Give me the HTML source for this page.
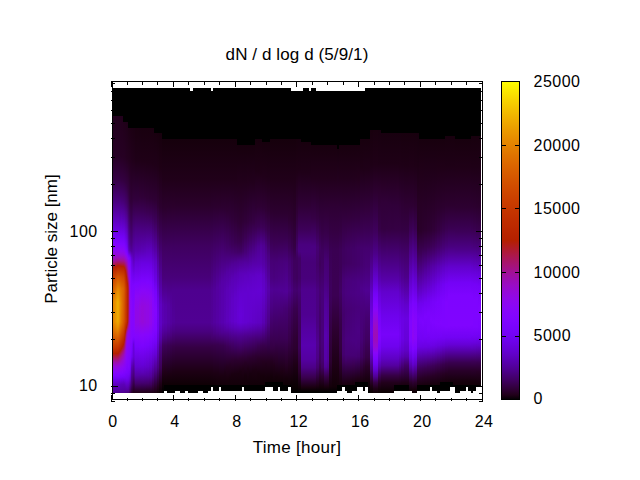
<!DOCTYPE html><html><head><meta charset="utf-8"><title>dN / d log d</title><style>
html,body{margin:0;padding:0;background:#fff}
body{width:640px;height:480px;position:relative;overflow:hidden;font-family:"Liberation Sans",sans-serif;font-size:16px;color:#000}
.a{position:absolute}
.k{position:absolute;background:#000}
.t{position:absolute;white-space:nowrap;line-height:16px;height:16px}
.c{position:absolute;top:0;height:100%}

</style></head><body>
<div class="a" style="left:0;top:88px;width:640px;height:305px">
<div class="c" style="left:113px;width:1px;background:linear-gradient(#000000 0.5px,#000000 27.5px,#22001d 28.5px,#270025 68.5px,#360046 92.5px,#4b0082 114.5px,#7102f1 146.5px,#7e04ff 154.5px,#8806f9 160.5px,#9309df 166.5px,#9a0dbe 170.5px,#a11096 173.5px,#aa1657 176.5px,#b31f08 179.5px,#b62200 180.5px,#cb4100 189.5px,#e58500 214.5px,#e58400 234.5px,#c93d00 258.5px,#b52000 265.5px,#a8156a 270.5px,#9d0ead 274.5px,#940adb 278.5px,#8806f9 283.5px,#7d04ff 287.5px,#7202f3 290.5px,#5e01bf 296.5px,#53009f 303.5px,#510096 304.5px)"></div>
<div class="c" style="left:114px;width:1px;background:linear-gradient(#000000 0.5px,#000000 27.5px,#22001d 28.5px,#270025 68.5px,#360046 92.5px,#4b0082 114.5px,#7102f1 146.5px,#7e04ff 154.5px,#8806f9 160.5px,#9109e5 165.5px,#990cc5 169.5px,#a00fa0 172.5px,#a5137c 174.5px,#af1a32 177.5px,#b52100 179.5px,#cd4500 189.5px,#e78d00 213.5px,#e78e00 233.5px,#de6f00 243.5px,#c63900 259.5px,#b52000 265.5px,#a8156a 270.5px,#9d0ead 274.5px,#940adb 278.5px,#8806f9 283.5px,#7d04ff 287.5px,#7202f3 290.5px,#5e01bf 296.5px,#53009f 303.5px,#510096 304.5px)"></div>
<div class="c" style="left:115px;width:1px;background:linear-gradient(#000000 0.5px,#000000 27.5px,#22001d 28.5px,#270025 68.5px,#360046 92.5px,#4b0082 114.5px,#7202f3 147.5px,#8004ff 155.5px,#8a06f6 161.5px,#9309dd 166.5px,#9c0db7 170.5px,#a31289 173.5px,#a9165d 175.5px,#b31f09 178.5px,#b72200 179.5px,#d04b00 189.5px,#e99600 213.5px,#e99600 233.5px,#e27b00 241.5px,#c63800 259.5px,#b52000 265.5px,#a8156a 270.5px,#9d0ead 274.5px,#940adb 278.5px,#8806f9 283.5px,#7d04ff 287.5px,#7202f3 290.5px,#5e01bf 296.5px,#53009f 303.5px,#510096 304.5px)"></div>
<div class="c" style="left:116px;width:1px;background:linear-gradient(#000000 0.5px,#000000 27.5px,#22001d 28.5px,#270025 68.5px,#360046 92.5px,#4b0082 114.5px,#7202f3 147.5px,#7f04ff 155.5px,#8a06f6 161.5px,#930adc 166.5px,#9c0eb3 170.5px,#a41283 173.5px,#ae1a38 176.5px,#b52000 178.5px,#d04c00 188.5px,#e89000 207.5px,#eda200 215.5px,#ec9e00 233.5px,#e68900 239.5px,#d85e00 249.5px,#be2b00 262.5px,#b52000 265.5px,#a8156a 270.5px,#9d0ead 274.5px,#940adb 278.5px,#8806f9 283.5px,#7d04ff 287.5px,#7202f3 290.5px,#5e01bf 296.5px,#53009f 303.5px,#510096 304.5px)"></div>
<div class="c" style="left:117px;width:1px;background:linear-gradient(#000000 0.5px,#000000 27.5px,#22001d 28.5px,#270025 68.5px,#360046 92.5px,#4b0082 114.5px,#7202f3 147.5px,#7f04ff 155.5px,#8a06f6 161.5px,#9209e3 165.5px,#9b0dbc 169.5px,#a21190 172.5px,#a81565 174.5px,#b31e0e 177.5px,#b62200 178.5px,#d35100 188.5px,#e68900 202.5px,#efac00 214.5px,#eea900 232.5px,#e99400 238.5px,#d96000 249.5px,#be2b00 262.5px,#b52000 265.5px,#a8156a 270.5px,#9d0ead 274.5px,#940adb 278.5px,#8806f9 283.5px,#7d04ff 287.5px,#7202f3 290.5px,#5e01bf 296.5px,#53009f 303.5px,#510096 304.5px)"></div>
<div class="c" style="left:118px;width:1px;background:linear-gradient(#000000 0.5px,#000000 27.5px,#22001d 28.5px,#270024 67.5px,#350044 91.5px,#48007b 112.5px,#7202f3 147.5px,#7f04ff 155.5px,#8a06f6 161.5px,#9209e3 165.5px,#9b0dbb 169.5px,#a2118e 172.5px,#a91562 174.5px,#b31f0a 177.5px,#b72300 178.5px,#d35200 188.5px,#e68a00 202.5px,#eea800 214.5px,#eda600 230.5px,#eb9d00 235.5px,#d75b00 249.5px,#bc2800 262.5px,#b62200 264.5px,#b31e0c 265.5px,#a91562 269.5px,#9f0fa5 273.5px,#950ad5 277.5px,#8c07f1 281.5px,#8305fe 285.5px,#7a03fd 288.5px,#6e02eb 291.5px,#5d01be 296.5px,#53009f 303.5px,#510096 304.5px)"></div>
<div class="c" style="left:119px;width:1px;background:linear-gradient(#000000 0.5px,#000000 27.5px,#22001c 28.5px,#260024 67.5px,#33003f 89.5px,#420068 106.5px,#5900af 128.5px,#7302f5 148.5px,#8104ff 156.5px,#8b07f4 162.5px,#930adc 166.5px,#9b0dbd 169.5px,#a21190 172.5px,#a81565 174.5px,#b31e0f 177.5px,#b62200 178.5px,#d24f00 188.5px,#e37f00 201.5px,#ea9800 214.5px,#e99300 233.5px,#df7200 241.5px,#cc4300 253.5px,#b52000 263.5px,#aa1755 267.5px,#a11098 271.5px,#960ad3 276.5px,#8d07ef 280.5px,#8204ff 285.5px,#7602f8 289.5px,#6501d6 293.5px,#5d01bd 296.5px,#53009e 303.5px,#500095 304.5px)"></div>
<div class="c" style="left:120px;width:1px;background:linear-gradient(#000000 0.5px,#000000 27.5px,#22001c 28.5px,#260023 67.5px,#330040 90.5px,#420069 107.5px,#5800ae 128.5px,#7302f4 148.5px,#7e04ff 155.5px,#8906f7 161.5px,#9109e4 165.5px,#9a0dbe 169.5px,#a21192 172.5px,#ab174e 175.5px,#b21e14 177.5px,#b62100 178.5px,#d04c00 188.5px,#e07500 200.5px,#e68a00 215.5px,#e48300 233.5px,#db6600 241.5px,#c93e00 252.5px,#b62200 261.5px,#b31f07 262.5px,#a9165f 266.5px,#a0109c 270.5px,#960bd2 275.5px,#8e08ee 279.5px,#8104ff 285.5px,#7502f7 289.5px,#5c01bb 296.5px,#53009d 303.5px,#500094 304.5px)"></div>
<div class="c" style="left:121px;width:1px;background:linear-gradient(#000000 0.5px,#000000 27.5px,#21001b 28.5px,#260023 68.5px,#340042 92.5px,#470079 113.5px,#7302f4 148.5px,#8004ff 156.5px,#8d07f1 163.5px,#950ad5 167.5px,#9f0fa4 171.5px,#a41280 173.5px,#ae1a36 176.5px,#b52000 178.5px,#cf4900 188.5px,#de7000 201.5px,#e27c00 216.5px,#df7300 234.5px,#c73900 251.5px,#b42000 260.5px,#a8156a 265.5px,#9f0fa3 269.5px,#960bd3 274.5px,#8a07f5 280.5px,#7e04ff 286.5px,#7402f6 289.5px,#6401d3 293.5px,#5c01b9 296.5px,#52009c 303.5px,#500093 304.5px)"></div>
<div class="c" style="left:122px;width:1px;background:linear-gradient(#000000 0.5px,#000000 27.5px,#21001b 28.5px,#260023 68.5px,#340041 92.5px,#460074 112.5px,#5c01bb 132.5px,#7402f6 149.5px,#8104ff 157.5px,#8c07f1 163.5px,#950ad6 167.5px,#9f0fa5 171.5px,#a41283 173.5px,#ae193a 176.5px,#b42001 178.5px,#cd4500 188.5px,#dc6800 200.5px,#de6e00 219.5px,#db6600 234.5px,#bb2700 255.5px,#b52000 258.5px,#a61376 264.5px,#a00fa1 267.5px,#970bce 272.5px,#8d07f0 278.5px,#8204ff 284.5px,#7703fa 288.5px,#6c01e6 291.5px,#5b01b7 296.5px,#52009b 303.5px,#500092 304.5px)"></div>
<div class="c" style="left:123px;width:1px;background:linear-gradient(#000000 0.5px,#000000 33.5px,#21001a 34.5px,#260023 69.5px,#330040 92.5px,#450072 112.5px,#5900b2 130.5px,#7202f3 148.5px,#7f04ff 156.5px,#8a06f6 162.5px,#9209e0 166.5px,#9c0db5 170.5px,#a41285 173.5px,#ad193e 176.5px,#b41f07 178.5px,#b72300 179.5px,#cd4600 189.5px,#d96200 200.5px,#d85e00 230.5px,#d35300 237.5px,#bf2d00 250.5px,#b42002 256.5px,#a41283 263.5px,#9e0eac 266.5px,#960ad4 271.5px,#8906f7 279.5px,#7c03fe 286.5px,#7302f5 289.5px,#6301cf 293.5px,#5b01b6 296.5px,#52009a 303.5px,#4f0092 304.5px)"></div>
<div class="c" style="left:124px;width:1px;background:linear-gradient(#000000 0.5px,#000000 33.5px,#20001a 34.5px,#260023 70.5px,#330040 93.5px,#470077 115.5px,#7002ee 148.5px,#7d03fe 156.5px,#8706fa 162.5px,#9008e7 166.5px,#9a0cbf 170.5px,#a21193 173.5px,#aa1755 176.5px,#b31f0a 179.5px,#b62200 180.5px,#ce4700 193.5px,#d45500 201.5px,#d14d00 233.5px,#b82400 249.5px,#b42000 251.5px,#a00f9f 262.5px,#980cc8 266.5px,#9008e6 272.5px,#8405fd 281.5px,#7903fc 287.5px,#6f02ed 290.5px,#5b01b8 296.5px,#510098 303.5px,#4f008f 304.5px)"></div>
<div class="c" style="left:125px;width:1px;background:linear-gradient(#000000 0.5px,#000000 33.5px,#200019 34.5px,#250021 69.5px,#33003f 94.5px,#44006e 114.5px,#5a00b4 134.5px,#7102f1 152.5px,#7e04ff 160.5px,#8605fc 164.5px,#9109e4 168.5px,#9e0eab 173.5px,#aa1756 178.5px,#b31f09 182.5px,#b52100 183.5px,#cc4200 200.5px,#c93d00 233.5px,#b52100 243.5px,#b31e0c 244.5px,#ad193d 247.5px,#a21191 254.5px,#970bd0 262.5px,#8f08ea 268.5px,#8204ff 281.5px,#7502f8 288.5px,#6901df 292.5px,#5c01b9 297.5px,#500095 303.5px,#4d008b 304.5px)"></div>
<div class="c" style="left:126px;width:1px;background:linear-gradient(#000000 0.5px,#000000 33.5px,#1f0018 34.5px,#240020 70.5px,#32003e 95.5px,#43006a 115.5px,#7002ef 155.5px,#7e04ff 163.5px,#8706fb 166.5px,#9309de 170.5px,#a0109e 176.5px,#b42002 188.5px,#c33300 201.5px,#c13000 233.5px,#b72200 238.5px,#b41f05 239.5px,#a8156a 243.5px,#a0109d 246.5px,#980bca 251.5px,#9108e6 257.5px,#8806fa 270.5px,#7b03fe 284.5px,#7002ee 290.5px,#53009c 302.5px,#4c0087 304.5px)"></div>
<div class="c" style="left:127px;width:1px;background:linear-gradient(#000000 0.5px,#000000 33.5px,#1e0017 34.5px,#24001f 70.5px,#330040 99.5px,#420068 118.5px,#6b01e3 158.5px,#7a03fd 165.5px,#8605fc 168.5px,#9b0db9 178.5px,#a61376 186.5px,#ae193a 191.5px,#b41f04 195.5px,#b82400 199.5px,#b62200 233.5px,#b42000 234.5px,#b01c22 236.5px,#a21193 241.5px,#990cc6 244.5px,#9309de 247.5px,#8b07f3 253.5px,#8505fd 269.5px,#7a03fc 284.5px,#6f02ed 290.5px,#5500a2 301.5px,#4b0083 304.5px)"></div>
<div class="c" style="left:128px;width:1px;background:linear-gradient(#000000 0.5px,#000000 39.5px,#1e0016 40.5px,#24001f 72.5px,#350043 106.5px,#43006b 126.5px,#510097 145.5px,#5b01b7 158.5px,#6001c7 162.5px,#7603f9 167.5px,#8305fe 170.5px,#940ada 182.5px,#9b0dba 188.5px,#a41285 193.5px,#ab174f 198.5px,#ad1940 201.5px,#ad1941 220.5px,#aa1659 230.5px,#a81567 233.5px,#a1109b 237.5px,#960bd1 241.5px,#8f08ea 244.5px,#8b07f5 248.5px,#8004ff 278.5px,#7502f7 286.5px,#6b01e3 291.5px,#500095 302.5px,#4a0080 304.5px)"></div>
<div class="c" style="left:129px;width:1px;background:linear-gradient(#000000 0.5px,#000000 39.5px,#1d0015 40.5px,#23001e 72.5px,#330040 112.5px,#410066 132.5px,#510098 156.5px,#5900b0 162.5px,#6001c6 164.5px,#7002ee 167.5px,#7903fc 169.5px,#8505fc 175.5px,#9309de 192.5px,#980bcb 201.5px,#990cc4 220.5px,#970bcc 233.5px,#8c07f2 244.5px,#8405fd 260.5px,#7b03fd 280.5px,#7102f0 286.5px,#6501d5 291.5px,#450071 303.5px,#410066 304.5px)"></div>
<div class="c" style="left:130px;width:1px;background:linear-gradient(#000000 0.5px,#000000 39.5px,#1d0014 40.5px,#23001d 73.5px,#31003a 113.5px,#3e005d 134.5px,#4d0089 156.5px,#54009f 162.5px,#6301cf 166.5px,#7002ef 169.5px,#7903fb 173.5px,#8405fe 188.5px,#8c07f2 222.5px,#8906f7 243.5px,#7e04ff 266.5px,#7202f2 278.5px,#6701db 285.5px,#5b01b8 291.5px,#3b0054 303.5px,#38004b 304.5px)"></div>
<div class="c" style="left:131px;width:1px;background:linear-gradient(#000000 0.5px,#000000 39.5px,#1c0013 40.5px,#21001b 71.5px,#2f0036 111.5px,#3c0057 133.5px,#4c0087 157.5px,#53009e 163.5px,#6401d1 169.5px,#6a01e2 173.5px,#7a03fd 192.5px,#8706fb 215.5px,#8305fe 252.5px,#7803fb 264.5px,#7102f0 269.5px,#5a00b4 279.5px,#43006d 296.5px,#2c0030 304.5px)"></div>
<div class="c" style="left:132px;width:1px;background:linear-gradient(#000000 0.5px,#000000 39.5px,#1c0013 40.5px,#21001b 73.5px,#31003b 113.5px,#4c0087 153.5px,#5400a2 163.5px,#6201cd 171.5px,#7002f0 185.5px,#7e04ff 197.5px,#8605fc 231.5px,#8205fe 249.5px,#7502f8 255.5px,#6c01e7 268.5px,#6101ca 273.5px,#5700ab 278.5px,#44006e 292.5px,#270025 304.5px)"></div>
<div class="c" style="left:133px;width:1px;background:linear-gradient(#000000 0.5px,#000000 39.5px,#1b0012 40.5px,#21001a 73.5px,#31003a 110.5px,#3d005b 126.5px,#4b0084 145.5px,#5900b0 167.5px,#7002ef 187.5px,#7d04ff 197.5px,#8505fd 237.5px,#8205fe 248.5px,#7903fc 251.5px,#6801dc 256.5px,#6501d5 268.5px,#5e01c0 272.5px,#53009c 278.5px,#460073 288.5px,#260023 302.5px,#21001b 304.5px)"></div>
<div class="c" style="left:134px;width:1px;background:linear-gradient(#000000 0.5px,#000000 39.5px,#1b0012 40.5px,#200019 72.5px,#31003a 110.5px,#3c0057 124.5px,#4b0085 144.5px,#5800ae 164.5px,#6e02ec 185.5px,#7d04ff 196.5px,#8806f9 220.5px,#8706fa 240.5px,#8104ff 249.5px,#7402f5 254.5px,#6d02e9 260.5px,#6701da 269.5px,#4c0086 288.5px,#2b002c 301.5px,#22001c 304.5px)"></div>
<div class="c" style="left:135px;width:4px;background:linear-gradient(#000000 0.5px,#000000 39.5px,#1a0010 40.5px,#1f0018 73.5px,#31003c 111.5px,#3d0058 124.5px,#4b0085 142.5px,#5900b0 162.5px,#6701da 174.5px,#7d04ff 195.5px,#8b07f5 208.5px,#9008e6 224.5px,#9008e6 234.5px,#8405fd 247.5px,#7903fc 258.5px,#6301d0 278.5px,#5600a6 287.5px,#44006d 295.5px,#260023 303.5px,#23001d 304.5px)"></div>
<div class="c" style="left:139px;width:2px;background:linear-gradient(#000000 0.5px,#000000 39.5px,#190010 40.5px,#1f0017 72.5px,#300037 108.5px,#3b0053 122.5px,#4d008a 144.5px,#5a00b2 162.5px,#6701db 173.5px,#7c03fe 193.5px,#8806f9 203.5px,#9209e2 218.5px,#9309de 233.5px,#8605fc 247.5px,#7903fc 259.5px,#6401d1 278.5px,#5700ac 286.5px,#44006d 295.5px,#260023 303.5px,#23001d 304.5px)"></div>
<div class="c" style="left:141px;width:3px;background:linear-gradient(#000000 0.5px,#000000 39.5px,#19000f 40.5px,#1f0017 73.5px,#300038 109.5px,#3b0055 123.5px,#4e008c 145.5px,#5b01b8 163.5px,#6901e0 174.5px,#7c03fe 192.5px,#8806f9 202.5px,#9309dd 218.5px,#940ad9 233.5px,#8706fa 246.5px,#7c03fe 257.5px,#6601d8 276.5px,#5b01b7 284.5px,#460075 294.5px,#260023 303.5px,#22001d 304.5px)"></div>
<div class="c" style="left:144px;width:2px;background:linear-gradient(#000000 0.5px,#000000 39.5px,#19000f 40.5px,#1f0017 73.5px,#2f0035 108.5px,#3b0053 123.5px,#5c01bb 163.5px,#6901e0 174.5px,#7c03fe 192.5px,#8806f9 202.5px,#9209e1 217.5px,#9209e0 234.5px,#8605fc 246.5px,#7903fc 258.5px,#6401d2 277.5px,#5700aa 286.5px,#43006c 295.5px,#250022 303.5px,#22001c 304.5px)"></div>
<div class="c" style="left:146px;width:3px;background:linear-gradient(#000000 0.5px,#000000 39.5px,#19000f 40.5px,#1f0017 74.5px,#2f0036 110.5px,#3b0053 124.5px,#5f01c2 164.5px,#6b01e5 176.5px,#7d04ff 193.5px,#8906f7 204.5px,#9109e4 217.5px,#9109e4 234.5px,#8405fe 247.5px,#7903fc 257.5px,#6201cb 278.5px,#5400a2 287.5px,#43006a 295.5px,#280028 302.5px,#21001b 304.5px)"></div>
<div class="c" style="left:149px;width:3px;background:linear-gradient(#000000 0.5px,#000000 39.5px,#19000f 40.5px,#1f0017 74.5px,#2e0034 110.5px,#3b0053 125.5px,#6001c6 165.5px,#6c01e5 177.5px,#7d04ff 194.5px,#8a07f5 207.5px,#8f08ea 218.5px,#8e08ed 235.5px,#8204ff 247.5px,#7603f9 257.5px,#5f01c4 278.5px,#510097 288.5px,#3e005d 296.5px,#23001f 303.5px,#20001a 304.5px)"></div>
<div class="c" style="left:152px;width:2px;background:linear-gradient(#000000 0.5px,#000000 39.5px,#19000f 40.5px,#1f0017 75.5px,#2e0034 111.5px,#3c0058 129.5px,#5800af 161.5px,#6501d4 174.5px,#7903fc 196.5px,#8605fc 210.5px,#8906f7 233.5px,#7d04ff 248.5px,#7102f0 259.5px,#5c01bb 276.5px,#4a0082 288.5px,#2f0035 299.5px,#1e0016 304.5px)"></div>
<div class="c" style="left:154px;width:3px;background:linear-gradient(#000000 0.5px,#000000 40.5px,#000000 44.5px,#19000f 45.5px,#1f0018 77.5px,#2e0034 112.5px,#3e005d 134.5px,#5700a9 163.5px,#6001c7 173.5px,#6b01e4 191.5px,#7803fb 203.5px,#8305fe 221.5px,#7f04ff 242.5px,#7502f7 253.5px,#6501d4 266.5px,#4c0087 283.5px,#260023 300.5px,#1b0012 304.5px)"></div>
<div class="c" style="left:157px;width:2px;background:linear-gradient(#000000 0.5px,#000000 40.5px,#000000 44.5px,#18000e 45.5px,#1f0017 78.5px,#2e0033 117.5px,#3e005b 142.5px,#5500a3 174.5px,#5d01be 191.5px,#6b01e4 210.5px,#6f02ec 228.5px,#6b01e5 243.5px,#6501d5 251.5px,#49007f 279.5px,#23001d 298.5px,#14000a 304.5px)"></div>
<div class="c" style="left:159px;width:3px;background:linear-gradient(#000000 0.5px,#000000 40.5px,#000000 44.5px,#17000d 45.5px,#1e0015 79.5px,#2c002f 119.5px,#3b0055 145.5px,#480079 167.5px,#5400a1 195.5px,#5f01c3 216.5px,#5f01c5 236.5px,#5700ab 249.5px,#4b0083 259.5px,#3c0057 279.5px,#1f0018 295.5px,#0d0004 303.5px,#0c0004 304.5px)"></div>
<div class="c" style="left:162px;width:2px;background:linear-gradient(#000000 0.5px,#000000 40.5px,#000000 50.5px,#16000c 51.5px,#200019 91.5px,#2a002c 119.5px,#400061 159.5px,#49007c 190.5px,#520099 206.5px,#5900b0 216.5px,#5a00b4 234.5px,#52009a 244.5px,#4a0081 250.5px,#3e005d 257.5px,#240020 281.5px,#110007 294.5px,#000000 304.5px)"></div>
<div class="c" style="left:164px;width:3px;background:linear-gradient(#000000 0.5px,#000000 40.5px,#000000 50.5px,#16000c 51.5px,#200019 91.5px,#2b002d 120.5px,#400062 160.5px,#49007c 190.5px,#53009e 209.5px,#5700ab 218.5px,#5800ad 234.5px,#52009b 242.5px,#48007c 250.5px,#3d0059 257.5px,#1f0017 284.5px,#0f0005 296.5px,#000000 297.5px,#000000 302.5px,#ffffff 303.5px,#ffffff 304.5px)"></div>
<div class="c" style="left:167px;width:3px;background:linear-gradient(#000000 0.5px,#000000 40.5px,#000000 50.5px,#16000c 51.5px,#200019 91.5px,#2a002c 118.5px,#3f0060 158.5px,#49007c 190.5px,#5500a3 216.5px,#5500a5 234.5px,#4f0090 243.5px,#440070 251.5px,#3b0054 257.5px,#1a0011 287.5px,#0f0005 296.5px,#000000 297.5px,#000000 304.5px)"></div>
<div class="c" style="left:170px;width:2px;background:linear-gradient(#000000 0.5px,#000000 40.5px,#000000 50.5px,#16000c 51.5px,#200019 91.5px,#2b002d 119.5px,#400061 159.5px,#48007a 189.5px,#4f0092 205.5px,#53009e 221.5px,#53009d 235.5px,#49007c 247.5px,#390050 257.5px,#1c0013 285.5px,#0f0005 296.5px,#000000 297.5px,#000000 304.5px)"></div>
<div class="c" style="left:172px;width:3px;background:linear-gradient(#000000 0.5px,#000000 40.5px,#000000 50.5px,#16000c 51.5px,#200019 91.5px,#2b002c 118.5px,#3f0060 158.5px,#48007a 189.5px,#4e008f 202.5px,#510099 233.5px,#4c0088 241.5px,#410065 251.5px,#370049 258.5px,#1d0015 283.5px,#0f0005 296.5px,#000000 297.5px,#000000 304.5px)"></div>
<div class="c" style="left:175px;width:2px;background:linear-gradient(#000000 0.5px,#000000 40.5px,#000000 50.5px,#16000c 51.5px,#200019 91.5px,#2a002b 117.5px,#3f005f 157.5px,#48007a 189.5px,#4e008f 202.5px,#500093 234.5px,#49007e 243.5px,#3e005d 252.5px,#350044 259.5px,#1d0014 283.5px,#0f0005 296.5px,#000000 297.5px,#000000 302.5px,#ffffff 303.5px,#ffffff 304.5px)"></div>
<div class="c" style="left:177px;width:3px;background:linear-gradient(#000000 0.5px,#000000 40.5px,#000000 50.5px,#16000c 51.5px,#200019 91.5px,#2a002b 117.5px,#3f005f 157.5px,#48007a 189.5px,#4e008f 202.5px,#500093 234.5px,#49007e 243.5px,#3e005d 252.5px,#350044 259.5px,#1d0014 283.5px,#0f0005 296.5px,#000000 297.5px,#000000 302.5px,#ffffff 303.5px,#ffffff 304.5px)"></div>
<div class="c" style="left:180px;width:2px;background:linear-gradient(#000000 0.5px,#000000 40.5px,#000000 50.5px,#16000c 51.5px,#200019 91.5px,#2a002b 117.5px,#3f005f 157.5px,#48007a 189.5px,#4e008f 202.5px,#500093 234.5px,#49007e 243.5px,#3e005d 252.5px,#350044 259.5px,#1d0014 283.5px,#0f0005 296.5px,#000000 297.5px,#000000 304.5px)"></div>
<div class="c" style="left:182px;width:3px;background:linear-gradient(#000000 0.5px,#000000 40.5px,#000000 50.5px,#16000c 51.5px,#200019 91.5px,#2a002b 117.5px,#3f005f 157.5px,#48007a 189.5px,#4e008f 202.5px,#500093 234.5px,#49007e 243.5px,#3e005d 252.5px,#350044 259.5px,#1d0014 283.5px,#0f0005 296.5px,#000000 297.5px,#000000 304.5px)"></div>
<div class="c" style="left:185px;width:3px;background:linear-gradient(#000000 0.5px,#000000 40.5px,#000000 50.5px,#16000c 51.5px,#200019 91.5px,#2a002b 117.5px,#3f005f 157.5px,#48007a 189.5px,#4e008f 202.5px,#500093 234.5px,#49007e 243.5px,#3e005d 252.5px,#350044 259.5px,#1d0014 283.5px,#0f0005 296.5px,#000000 297.5px,#000000 302.5px,#ffffff 303.5px,#ffffff 304.5px)"></div>
<div class="c" style="left:188px;width:2px;background:linear-gradient(#000000 0.5px,#000000 40.5px,#000000 50.5px,#16000c 51.5px,#200019 91.5px,#2a002b 117.5px,#3f005f 157.5px,#48007a 189.5px,#4e008f 202.5px,#500093 234.5px,#49007e 243.5px,#3e005d 252.5px,#350044 259.5px,#1d0014 283.5px,#0f0005 296.5px,#000000 297.5px,#000000 304.5px)"></div>
<div class="c" style="left:190px;width:3px;background:linear-gradient(#ffffff 0.5px,#ffffff 2.5px,#000000 3.5px,#000000 43.5px,#000000 50.5px,#16000c 51.5px,#200019 91.5px,#2a002b 117.5px,#3f005f 157.5px,#48007a 189.5px,#4e008f 202.5px,#500093 234.5px,#49007e 243.5px,#3e005d 252.5px,#350044 259.5px,#1d0014 283.5px,#0f0005 296.5px,#000000 297.5px,#000000 304.5px)"></div>
<div class="c" style="left:193px;width:2px;background:linear-gradient(#000000 0.5px,#000000 40.5px,#000000 50.5px,#16000c 51.5px,#200019 91.5px,#2a002b 117.5px,#3f005f 157.5px,#48007a 189.5px,#4e008f 202.5px,#500093 234.5px,#49007e 243.5px,#3e005d 252.5px,#350044 259.5px,#1d0014 283.5px,#0f0005 296.5px,#000000 297.5px,#000000 304.5px)"></div>
<div class="c" style="left:195px;width:3px;background:linear-gradient(#000000 0.5px,#000000 40.5px,#000000 50.5px,#16000c 51.5px,#200019 91.5px,#2a002b 117.5px,#3f005f 157.5px,#48007a 189.5px,#4e008f 202.5px,#500093 234.5px,#49007e 243.5px,#3e005d 252.5px,#350044 259.5px,#1d0014 283.5px,#0f0005 296.5px,#000000 297.5px,#000000 304.5px)"></div>
<div class="c" style="left:198px;width:2px;background:linear-gradient(#000000 0.5px,#000000 40.5px,#000000 50.5px,#16000c 51.5px,#200019 91.5px,#2a002b 117.5px,#3f005f 157.5px,#48007a 189.5px,#4e008f 202.5px,#500093 234.5px,#49007e 243.5px,#3e005d 252.5px,#350044 259.5px,#1d0014 283.5px,#0f0005 296.5px,#000000 297.5px,#000000 302.5px,#ffffff 303.5px,#ffffff 304.5px)"></div>
<div class="c" style="left:200px;width:3px;background:linear-gradient(#000000 0.5px,#000000 40.5px,#000000 50.5px,#16000c 51.5px,#200019 91.5px,#2a002b 117.5px,#3f005f 157.5px,#48007a 189.5px,#4e008f 202.5px,#500093 234.5px,#49007e 243.5px,#3e005d 252.5px,#350044 259.5px,#1d0014 283.5px,#0f0005 296.5px,#000000 297.5px,#000000 302.5px,#ffffff 303.5px,#ffffff 304.5px)"></div>
<div class="c" style="left:203px;width:3px;background:linear-gradient(#000000 0.5px,#000000 40.5px,#000000 50.5px,#16000c 51.5px,#200019 91.5px,#2a002b 117.5px,#3f005f 157.5px,#48007a 189.5px,#4e008f 202.5px,#500093 234.5px,#49007e 243.5px,#3e005d 252.5px,#350044 259.5px,#1d0014 283.5px,#0f0005 296.5px,#000000 297.5px,#000000 304.5px)"></div>
<div class="c" style="left:206px;width:2px;background:linear-gradient(#000000 0.5px,#000000 40.5px,#000000 50.5px,#16000c 51.5px,#200019 91.5px,#2a002b 117.5px,#3f005f 157.5px,#48007a 189.5px,#4e008f 202.5px,#500093 234.5px,#49007e 243.5px,#3e005d 252.5px,#350044 259.5px,#1d0014 283.5px,#0f0005 296.5px,#000000 297.5px,#000000 304.5px)"></div>
<div class="c" style="left:208px;width:3px;background:linear-gradient(#000000 0.5px,#000000 40.5px,#000000 50.5px,#16000c 51.5px,#200019 91.5px,#2a002b 117.5px,#3f005f 157.5px,#48007a 189.5px,#4e008f 202.5px,#500093 234.5px,#49007e 243.5px,#3e005d 252.5px,#350044 259.5px,#1d0014 283.5px,#0f0005 296.5px,#000000 297.5px,#000000 302.5px,#ffffff 303.5px,#ffffff 304.5px)"></div>
<div class="c" style="left:211px;width:2px;background:linear-gradient(#ffffff 0.5px,#ffffff 2.5px,#000000 3.5px,#000000 43.5px,#000000 50.5px,#16000c 51.5px,#200019 91.5px,#2b002e 119.5px,#400063 159.5px,#4b0084 191.5px,#500094 202.5px,#510097 235.5px,#44006d 249.5px,#37004a 257.5px,#1e0016 282.5px,#100006 296.5px,#000000 297.5px,#000000 298.5px,#ffffff 299.5px,#ffffff 304.5px)"></div>
<div class="c" style="left:213px;width:3px;background:linear-gradient(#000000 0.5px,#000000 40.5px,#000000 50.5px,#16000c 51.5px,#200019 91.5px,#2b002e 118.5px,#410065 158.5px,#4d008c 191.5px,#52009a 203.5px,#53009e 234.5px,#4a0080 245.5px,#38004b 257.5px,#1c0013 285.5px,#100007 296.5px,#000000 297.5px,#000000 302.5px,#ffffff 303.5px,#ffffff 304.5px)"></div>
<div class="c" style="left:216px;width:3px;background:linear-gradient(#000000 0.5px,#000000 40.5px,#000000 50.5px,#16000c 51.5px,#200019 91.5px,#2c002f 119.5px,#420069 159.5px,#54009f 199.5px,#5500a4 234.5px,#4e008c 243.5px,#44006f 250.5px,#390050 256.5px,#1d0015 284.5px,#120008 296.5px,#000000 297.5px,#000000 302.5px,#ffffff 303.5px,#ffffff 304.5px)"></div>
<div class="c" style="left:219px;width:2px;background:linear-gradient(#000000 0.5px,#000000 40.5px,#000000 50.5px,#16000c 51.5px,#200019 91.5px,#2b002d 117.5px,#420068 157.5px,#5500a4 197.5px,#5700aa 234.5px,#4d0089 245.5px,#43006c 251.5px,#39004e 257.5px,#1a0010 288.5px,#120008 296.5px,#000000 297.5px,#000000 298.5px,#ffffff 299.5px,#ffffff 304.5px)"></div>
<div class="c" style="left:221px;width:3px;background:linear-gradient(#000000 0.5px,#000000 40.5px,#000000 50.5px,#16000c 51.5px,#200019 91.5px,#2c0030 119.5px,#44006d 159.5px,#5600a6 193.5px,#5800ac 207.5px,#5800af 234.5px,#4f0091 244.5px,#44006e 251.5px,#390050 257.5px,#1b0012 287.5px,#130009 296.5px,#000000 297.5px,#000000 302.5px,#ffffff 303.5px,#ffffff 304.5px)"></div>
<div class="c" style="left:224px;width:2px;background:linear-gradient(#000000 0.5px,#000000 40.5px,#000000 50.5px,#16000c 51.5px,#200019 91.5px,#2d0032 121.5px,#44006d 161.5px,#5500a5 189.5px,#5900b1 203.5px,#5a01b5 234.5px,#53009c 242.5px,#450072 251.5px,#3b0054 257.5px,#1d0015 284.5px,#130009 296.5px,#000000 297.5px,#000000 302.5px,#ffffff 303.5px,#ffffff 304.5px)"></div>
<div class="c" style="left:226px;width:3px;background:linear-gradient(#000000 0.5px,#000000 40.5px,#000000 50.5px,#16000c 51.5px,#200019 91.5px,#2d0032 122.5px,#420068 160.5px,#5400a2 184.5px,#5b01b6 202.5px,#5d01bc 233.5px,#5800ac 239.5px,#450070 252.5px,#3c0056 258.5px,#23001e 279.5px,#17000c 292.5px,#130009 296.5px,#000000 297.5px,#000000 302.5px,#ffffff 303.5px,#ffffff 304.5px)"></div>
<div class="c" style="left:229px;width:2px;background:linear-gradient(#000000 0.5px,#000000 40.5px,#000000 50.5px,#16000c 51.5px,#200019 91.5px,#2f0037 127.5px,#3e005e 156.5px,#460075 166.5px,#5400a0 181.5px,#5c01b9 199.5px,#5f01c3 232.5px,#5a01b5 238.5px,#3d005a 258.5px,#260024 276.5px,#18000e 289.5px,#130009 296.5px,#000000 297.5px,#000000 302.5px,#ffffff 303.5px,#ffffff 304.5px)"></div>
<div class="c" style="left:231px;width:3px;background:linear-gradient(#000000 0.5px,#000000 40.5px,#000000 50.5px,#16000c 51.5px,#200019 91.5px,#300039 131.5px,#3d005a 156.5px,#44006d 164.5px,#510097 176.5px,#5a01b5 191.5px,#6001c5 212.5px,#6101c8 233.5px,#5a01b5 239.5px,#43006a 255.5px,#2d0031 271.5px,#1a0010 286.5px,#130009 296.5px,#000000 297.5px,#000000 302.5px,#ffffff 303.5px,#ffffff 304.5px)"></div>
<div class="c" style="left:234px;width:3px;background:linear-gradient(#000000 0.5px,#000000 40.5px,#000000 50.5px,#16000c 51.5px,#200019 91.5px,#2f0036 131.5px,#3a0052 154.5px,#43006a 164.5px,#500094 174.5px,#5a00b4 187.5px,#6101ca 209.5px,#6301ce 233.5px,#5c01ba 239.5px,#4c0088 249.5px,#2c0030 271.5px,#1a0011 285.5px,#130009 296.5px,#000000 297.5px,#000000 302.5px,#ffffff 303.5px,#ffffff 304.5px)"></div>
<div class="c" style="left:237px;width:2px;background:linear-gradient(#000000 0.5px,#000000 40.5px,#000000 56.5px,#17000d 57.5px,#22001c 95.5px,#2f0037 135.5px,#39004f 154.5px,#420068 164.5px,#4f0090 172.5px,#5a00b4 185.5px,#6101ca 203.5px,#6501d4 225.5px,#6401d2 234.5px,#5b01b8 240.5px,#4d008b 249.5px,#3d0059 261.5px,#2b002d 272.5px,#1a0010 285.5px,#130009 296.5px,#000000 297.5px,#000000 302.5px,#ffffff 303.5px,#ffffff 304.5px)"></div>
<div class="c" style="left:239px;width:3px;background:linear-gradient(#000000 0.5px,#000000 40.5px,#000000 56.5px,#17000d 57.5px,#22001c 95.5px,#2f0035 135.5px,#38004c 153.5px,#400064 163.5px,#510096 173.5px,#5b01b8 185.5px,#6301d0 206.5px,#6601d8 227.5px,#6501d5 234.5px,#5c01bb 240.5px,#500094 247.5px,#3f0060 260.5px,#2e0033 270.5px,#1b0012 283.5px,#130009 296.5px,#000000 297.5px,#000000 302.5px,#ffffff 303.5px,#ffffff 304.5px)"></div>
<div class="c" style="left:242px;width:2px;background:linear-gradient(#000000 0.5px,#000000 40.5px,#000000 56.5px,#17000d 57.5px,#21001b 93.5px,#2f0036 133.5px,#390050 151.5px,#43006b 163.5px,#510098 173.5px,#5c01b9 185.5px,#6301ce 203.5px,#6501d5 226.5px,#6401d2 234.5px,#5b01b8 240.5px,#4e008d 248.5px,#3c0058 261.5px,#2f0035 269.5px,#1f0017 280.5px,#15000b 292.5px,#130009 296.5px,#000000 297.5px,#000000 298.5px,#ffffff 299.5px,#ffffff 304.5px)"></div>
<div class="c" style="left:244px;width:3px;background:linear-gradient(#000000 0.5px,#000000 40.5px,#000000 56.5px,#17000d 57.5px,#21001b 93.5px,#300039 133.5px,#3b0053 149.5px,#470077 164.5px,#53009e 174.5px,#5e01bf 187.5px,#6301d0 205.5px,#6301d0 234.5px,#5b01b6 240.5px,#4f008f 247.5px,#38004b 263.5px,#260024 274.5px,#17000d 287.5px,#130009 296.5px,#000000 297.5px,#000000 302.5px,#ffffff 303.5px,#ffffff 304.5px)"></div>
<div class="c" style="left:247px;width:2px;background:linear-gradient(#000000 0.5px,#000000 40.5px,#000000 56.5px,#17000d 57.5px,#22001c 94.5px,#32003d 134.5px,#3f005f 151.5px,#4b0085 166.5px,#5c01bb 184.5px,#6301ce 200.5px,#6301cf 233.5px,#5c01b9 239.5px,#4c0088 248.5px,#2d0032 269.5px,#1e0016 280.5px,#14000a 293.5px,#130009 296.5px,#000000 297.5px,#000000 302.5px,#ffffff 303.5px,#ffffff 304.5px)"></div>
<div class="c" style="left:249px;width:3px;background:linear-gradient(#000000 0.5px,#000000 40.5px,#000000 56.5px,#17000d 57.5px,#21001b 92.5px,#32003e 132.5px,#3b0054 144.5px,#500095 169.5px,#5e01c1 186.5px,#6301d0 204.5px,#6201cc 233.5px,#5c01bb 238.5px,#49007d 250.5px,#2b002d 270.5px,#18000f 285.5px,#120008 296.5px,#000000 297.5px,#000000 302.5px,#ffffff 303.5px,#ffffff 304.5px)"></div>
<div class="c" style="left:252px;width:3px;background:linear-gradient(#000000 0.5px,#000000 40.5px,#000000 56.5px,#17000d 57.5px,#22001d 95.5px,#350044 134.5px,#3f0060 146.5px,#4c0088 161.5px,#5a00b3 179.5px,#6001c7 189.5px,#6401d1 205.5px,#6001c7 234.5px,#5800ae 240.5px,#480079 250.5px,#2d0031 268.5px,#1b0012 282.5px,#120008 296.5px,#000000 297.5px,#000000 302.5px,#ffffff 303.5px,#ffffff 304.5px)"></div>
<div class="c" style="left:255px;width:2px;background:linear-gradient(#000000 0.5px,#000000 40.5px,#000000 50.5px,#17000d 51.5px,#1e0016 83.5px,#2e0034 120.5px,#3b0053 140.5px,#4e008c 159.5px,#5800ac 176.5px,#6001c5 186.5px,#6401d1 203.5px,#5f01c4 234.5px,#5700ab 240.5px,#450071 251.5px,#2d0032 267.5px,#1c0013 281.5px,#120008 296.5px,#000000 297.5px,#000000 302.5px,#ffffff 303.5px,#ffffff 304.5px)"></div>
<div class="c" style="left:257px;width:3px;background:linear-gradient(#000000 0.5px,#000000 40.5px,#000000 50.5px,#17000d 51.5px,#1e0016 83.5px,#2e0033 118.5px,#3a0052 138.5px,#4f0092 158.5px,#5800ae 176.5px,#6101c8 187.5px,#6401d2 203.5px,#6001c7 223.5px,#5e01c1 234.5px,#5600a8 240.5px,#3a0053 257.5px,#290028 270.5px,#18000e 285.5px,#120008 296.5px,#000000 297.5px,#000000 302.5px,#ffffff 303.5px,#ffffff 304.5px)"></div>
<div class="c" style="left:260px;width:2px;background:linear-gradient(#000000 0.5px,#000000 40.5px,#000000 50.5px,#17000d 51.5px,#1f0017 85.5px,#2e0034 118.5px,#3d0058 139.5px,#510097 157.5px,#5500a3 166.5px,#5800ad 175.5px,#6101c8 186.5px,#6401d2 202.5px,#5f01c4 223.5px,#5d01be 234.5px,#5600a6 240.5px,#39004e 257.5px,#250022 272.5px,#16000c 287.5px,#110007 296.5px,#000000 297.5px,#000000 302.5px,#ffffff 303.5px,#ffffff 304.5px)"></div>
<div class="c" style="left:262px;width:3px;background:linear-gradient(#000000 0.5px,#000000 40.5px,#000000 53.5px,#17000d 54.5px,#200019 88.5px,#2e0034 119.5px,#3c0056 139.5px,#4f0091 157.5px,#5600a8 176.5px,#5e01c0 187.5px,#6101ca 203.5px,#5c01ba 222.5px,#5900b2 234.5px,#510096 241.5px,#38004c 257.5px,#24001f 273.5px,#15000b 288.5px,#110007 296.5px,#000000 297.5px,#000000 302.5px,#ffffff 303.5px,#ffffff 304.5px)"></div>
<div class="c" style="left:265px;width:2px;background:linear-gradient(#000000 0.5px,#000000 40.5px,#000000 53.5px,#17000d 54.5px,#200019 89.5px,#2f0035 122.5px,#3b0054 141.5px,#4b0085 159.5px,#5400a0 179.5px,#5b01b8 196.5px,#5b01b8 207.5px,#5600a7 225.5px,#53009c 235.5px,#340042 260.5px,#21001b 275.5px,#130009 291.5px,#120008 293.5px,#000000 294.5px,#000000 298.5px,#ffffff 299.5px,#ffffff 304.5px)"></div>
<div class="c" style="left:267px;width:3px;background:linear-gradient(#000000 0.5px,#000000 40.5px,#000000 53.5px,#17000d 54.5px,#1f0018 88.5px,#2d0031 121.5px,#39004f 142.5px,#4a0081 167.5px,#5700aa 201.5px,#4d0089 234.5px,#24001f 273.5px,#14000a 289.5px,#120008 293.5px,#000000 294.5px,#000000 298.5px,#ffffff 299.5px,#ffffff 304.5px)"></div>
<div class="c" style="left:270px;width:3px;background:linear-gradient(#000000 0.5px,#000000 40.5px,#000000 50.5px,#16000c 51.5px,#200019 91.5px,#2c0030 124.5px,#3b0055 153.5px,#470076 173.5px,#4a0081 190.5px,#500094 201.5px,#4a0082 219.5px,#3f005e 243.5px,#340042 260.5px,#23001f 273.5px,#14000a 288.5px,#110007 293.5px,#000000 294.5px,#000000 298.5px,#ffffff 299.5px,#ffffff 304.5px)"></div>
<div class="c" style="left:273px;width:2px;background:linear-gradient(#000000 0.5px,#000000 40.5px,#000000 50.5px,#16000c 51.5px,#200019 91.5px,#2c0030 125.5px,#3d0058 157.5px,#460074 172.5px,#49007d 189.5px,#4f0091 201.5px,#49007f 217.5px,#370048 257.5px,#200019 277.5px,#110007 293.5px,#000000 294.5px,#000000 302.5px,#ffffff 303.5px,#ffffff 304.5px)"></div>
<div class="c" style="left:275px;width:3px;background:linear-gradient(#000000 0.5px,#000000 40.5px,#000000 50.5px,#16000c 51.5px,#200019 91.5px,#2c0030 125.5px,#3c0056 155.5px,#470077 174.5px,#4a0081 190.5px,#4f0092 201.5px,#4b0085 212.5px,#390050 252.5px,#29002a 270.5px,#15000b 288.5px,#110007 293.5px,#000000 294.5px,#000000 302.5px,#ffffff 303.5px,#ffffff 304.5px)"></div>
<div class="c" style="left:278px;width:2px;background:linear-gradient(#000000 0.5px,#000000 40.5px,#000000 50.5px,#16000c 51.5px,#200019 91.5px,#2c0030 125.5px,#3b0055 154.5px,#470078 173.5px,#4b0083 190.5px,#500093 201.5px,#4c0088 210.5px,#43006a 231.5px,#38004c 254.5px,#17000d 287.5px,#110007 293.5px,#000000 294.5px,#000000 298.5px,#ffffff 299.5px,#ffffff 304.5px)"></div>
<div class="c" style="left:280px;width:3px;background:linear-gradient(#000000 0.5px,#000000 40.5px,#000000 50.5px,#16000c 51.5px,#200019 91.5px,#2c0030 125.5px,#3b0054 153.5px,#480079 173.5px,#4c0087 191.5px,#500094 202.5px,#4b0085 211.5px,#43006b 229.5px,#3a0052 251.5px,#1d0014 283.5px,#110007 293.5px,#000000 294.5px,#000000 302.5px,#ffffff 303.5px,#ffffff 304.5px)"></div>
<div class="c" style="left:283px;width:2px;background:linear-gradient(#000000 0.5px,#000000 40.5px,#000000 50.5px,#16000c 51.5px,#200019 91.5px,#2c0030 125.5px,#3a0051 151.5px,#48007b 173.5px,#4d0089 191.5px,#500095 203.5px,#460074 220.5px,#3b0054 250.5px,#1f0017 282.5px,#0e0005 296.5px,#000000 297.5px,#000000 302.5px,#ffffff 303.5px,#ffffff 304.5px)"></div>
<div class="c" style="left:285px;width:3px;background:linear-gradient(#000000 0.5px,#000000 40.5px,#000000 50.5px,#16000c 51.5px,#200019 91.5px,#2c0030 125.5px,#390050 150.5px,#49007d 174.5px,#4e008e 193.5px,#510096 203.5px,#450072 220.5px,#3b0055 250.5px,#330040 261.5px,#260024 277.5px,#15000b 290.5px,#0e0005 296.5px,#000000 297.5px,#000000 302.5px,#ffffff 303.5px,#ffffff 304.5px)"></div>
<div class="c" style="left:288px;width:3px;background:linear-gradient(#000000 0.5px,#000000 40.5px,#000000 50.5px,#16000c 51.5px,#200019 91.5px,#2e0033 131.5px,#3c0057 159.5px,#450072 173.5px,#49007e 191.5px,#4d008a 202.5px,#470078 211.5px,#410064 222.5px,#370049 251.5px,#1f0018 281.5px,#0e0005 296.5px,#000000 297.5px,#000000 298.5px,#ffffff 299.5px,#ffffff 304.5px)"></div>
<div class="c" style="left:291px;width:2px;background:linear-gradient(#ffffff 0.5px,#ffffff 2.5px,#000000 3.5px,#000000 43.5px,#000000 50.5px,#16000c 51.5px,#200019 91.5px,#2d0031 131.5px,#38004d 158.5px,#420067 172.5px,#450070 191.5px,#49007d 202.5px,#3d0059 222.5px,#2d0032 262.5px,#120008 292.5px,#000000 304.5px)"></div>
<div class="c" style="left:293px;width:3px;background:linear-gradient(#ffffff 0.5px,#ffffff 2.5px,#000000 3.5px,#000000 43.5px,#000000 50.5px,#16000c 51.5px,#200019 91.5px,#2b002e 131.5px,#350046 159.5px,#3e005d 172.5px,#3f0060 190.5px,#44006f 201.5px,#410067 208.5px,#390050 220.5px,#2f0035 250.5px,#2c002f 260.5px,#1e0017 276.5px,#0a0002 299.5px,#000000 304.5px)"></div>
<div class="c" style="left:296px;width:2px;background:linear-gradient(#ffffff 0.5px,#ffffff 2.5px,#000000 3.5px,#000000 43.5px,#000000 50.5px,#17000d 51.5px,#1f0017 84.5px,#2f0036 124.5px,#38004d 143.5px,#42006a 161.5px,#3e005e 169.5px,#3e005d 190.5px,#43006d 202.5px,#39004e 220.5px,#2e0033 249.5px,#2b002e 260.5px,#1e0016 276.5px,#080001 300.5px,#000000 304.5px)"></div>
<div class="c" style="left:298px;width:3px;background:linear-gradient(#ffffff 0.5px,#ffffff 2.5px,#000000 3.5px,#000000 43.5px,#000000 50.5px,#17000e 51.5px,#1e0016 81.5px,#2f0036 117.5px,#3d0059 141.5px,#49007e 156.5px,#4a0081 163.5px,#410065 170.5px,#410066 190.5px,#470076 201.5px,#410067 214.5px,#3d0059 238.5px,#3c0057 259.5px,#2b002d 283.5px,#100006 299.5px,#000000 304.5px)"></div>
<div class="c" style="left:301px;width:2px;background:linear-gradient(#ffffff 0.5px,#ffffff 2.5px,#000000 3.5px,#000000 43.5px,#000000 53.5px,#18000e 54.5px,#1f0018 84.5px,#2f0036 117.5px,#3d0059 141.5px,#49007e 156.5px,#4a0082 163.5px,#470078 174.5px,#48007b 190.5px,#4e008d 201.5px,#4f0091 226.5px,#5400a1 241.5px,#5800ae 257.5px,#5400a0 271.5px,#4c0087 279.5px,#39004e 289.5px,#19000f 299.5px,#030000 303.5px,#000000 304.5px)"></div>
<div class="c" style="left:303px;width:3px;background:linear-gradient(#000000 0.5px,#000000 40.5px,#000000 53.5px,#18000e 54.5px,#1f0018 84.5px,#2f0036 117.5px,#3d0059 141.5px,#49007e 156.5px,#4a0082 163.5px,#470078 174.5px,#48007b 190.5px,#4e008d 201.5px,#4f0091 226.5px,#5400a1 241.5px,#5800ae 257.5px,#5400a0 271.5px,#4c0087 279.5px,#39004e 289.5px,#19000f 299.5px,#030000 303.5px,#000000 304.5px)"></div>
<div class="c" style="left:306px;width:3px;background:linear-gradient(#000000 0.5px,#000000 40.5px,#000000 53.5px,#18000e 54.5px,#1f0018 84.5px,#2f0036 117.5px,#3d0059 141.5px,#49007e 156.5px,#4a0082 163.5px,#470078 174.5px,#48007b 190.5px,#4e008d 201.5px,#4f0091 226.5px,#5400a1 241.5px,#5800ae 257.5px,#5400a0 271.5px,#4c0087 279.5px,#39004e 289.5px,#19000f 299.5px,#030000 303.5px,#000000 304.5px)"></div>
<div class="c" style="left:309px;width:2px;background:linear-gradient(#ffffff 0.5px,#ffffff 2.5px,#000000 3.5px,#000000 43.5px,#000000 53.5px,#18000e 54.5px,#1f0018 84.5px,#2f0036 117.5px,#3d0059 141.5px,#49007e 156.5px,#4a0082 163.5px,#470078 174.5px,#48007b 190.5px,#4e008d 201.5px,#4f0091 226.5px,#5400a1 241.5px,#5800ae 257.5px,#5400a0 271.5px,#4c0087 279.5px,#39004e 289.5px,#19000f 299.5px,#030000 303.5px,#000000 304.5px)"></div>
<div class="c" style="left:311px;width:3px;background:linear-gradient(#000000 0.5px,#000000 40.5px,#000000 56.5px,#18000e 57.5px,#22001c 90.5px,#360046 130.5px,#410066 146.5px,#4a0081 158.5px,#4a0080 165.5px,#470078 174.5px,#48007b 190.5px,#4e008d 201.5px,#4f0091 226.5px,#5400a1 241.5px,#5800ae 257.5px,#5400a0 271.5px,#4c0087 279.5px,#39004e 289.5px,#19000f 299.5px,#030000 303.5px,#000000 304.5px)"></div>
<div class="c" style="left:314px;width:2px;background:linear-gradient(#000000 0.5px,#000000 40.5px,#000000 56.5px,#18000e 57.5px,#22001c 90.5px,#360046 130.5px,#410066 146.5px,#4a0081 158.5px,#4a0080 165.5px,#470078 174.5px,#48007b 190.5px,#4e008d 201.5px,#4f0091 226.5px,#5400a1 241.5px,#5800ae 257.5px,#5400a0 271.5px,#4c0087 279.5px,#39004e 289.5px,#19000f 299.5px,#030000 303.5px,#000000 304.5px)"></div>
<div class="c" style="left:316px;width:3px;background:linear-gradient(#ffffff 0.5px,#ffffff 2.5px,#000000 3.5px,#000000 43.5px,#000000 56.5px,#18000e 57.5px,#22001c 90.5px,#340042 130.5px,#3c0057 144.5px,#450072 159.5px,#43006a 176.5px,#460073 191.5px,#4a0081 202.5px,#4a0081 234.5px,#4f008f 255.5px,#4c0086 269.5px,#44006d 279.5px,#1e0015 297.5px,#030000 303.5px,#000000 304.5px)"></div>
<div class="c" style="left:319px;width:2px;background:linear-gradient(#ffffff 0.5px,#ffffff 2.5px,#000000 3.5px,#000000 43.5px,#000000 56.5px,#18000e 57.5px,#22001c 90.5px,#31003c 128.5px,#39004e 145.5px,#400061 159.5px,#3e005c 176.5px,#460073 202.5px,#43006c 224.5px,#43006a 237.5px,#43006d 256.5px,#3e005d 274.5px,#360048 281.5px,#250022 291.5px,#130009 299.5px,#000000 304.5px)"></div>
<div class="c" style="left:321px;width:3px;background:linear-gradient(#ffffff 0.5px,#ffffff 2.5px,#000000 3.5px,#000000 43.5px,#000000 56.5px,#18000e 57.5px,#22001c 90.5px,#2f0037 122.5px,#360047 143.5px,#3e005e 162.5px,#410064 181.5px,#470079 204.5px,#470078 224.5px,#480079 238.5px,#48007b 252.5px,#450070 272.5px,#3f0060 279.5px,#2d0031 288.5px,#140009 299.5px,#000000 304.5px)"></div>
<div class="c" style="left:324px;width:3px;background:linear-gradient(#ffffff 0.5px,#ffffff 2.5px,#000000 3.5px,#000000 43.5px,#000000 56.5px,#18000e 57.5px,#22001c 90.5px,#300038 123.5px,#38004c 146.5px,#450072 172.5px,#49007d 191.5px,#510098 215.5px,#5500a4 236.5px,#5800ae 247.5px,#5600a6 271.5px,#510096 278.5px,#450072 283.5px,#350045 289.5px,#17000d 299.5px,#030000 303.5px,#000000 304.5px)"></div>
<div class="c" style="left:327px;width:2px;background:linear-gradient(#ffffff 0.5px,#ffffff 2.5px,#000000 3.5px,#000000 43.5px,#000000 56.5px,#18000e 57.5px,#22001c 90.5px,#300038 123.5px,#37004a 145.5px,#450072 174.5px,#48007a 192.5px,#4f0091 215.5px,#53009d 237.5px,#5500a4 248.5px,#52009a 272.5px,#4c0087 279.5px,#340041 289.5px,#1b0011 298.5px,#030000 303.5px,#000000 304.5px)"></div>
<div class="c" style="left:329px;width:3px;background:linear-gradient(#ffffff 0.5px,#ffffff 2.5px,#000000 3.5px,#000000 43.5px,#000000 56.5px,#18000e 57.5px,#22001c 90.5px,#2e0034 118.5px,#350044 144.5px,#3b0055 163.5px,#3e005d 198.5px,#3d005a 211.5px,#360047 237.5px,#2c0030 273.5px,#14000a 298.5px,#000000 304.5px)"></div>
<div class="c" style="left:332px;width:2px;background:linear-gradient(#ffffff 0.5px,#ffffff 2.5px,#000000 3.5px,#000000 43.5px,#000000 56.5px,#18000e 57.5px,#22001c 90.5px,#2e0034 118.5px,#350043 144.5px,#3a0052 162.5px,#3b0053 191.5px,#3b0053 207.5px,#2d0031 241.5px,#1b0012 281.5px,#120008 298.5px,#000000 304.5px)"></div>
<div class="c" style="left:334px;width:3px;background:linear-gradient(#ffffff 0.5px,#ffffff 2.5px,#000000 3.5px,#000000 43.5px,#000000 56.5px,#18000e 57.5px,#22001c 90.5px,#2e0034 118.5px,#350043 144.5px,#3a0052 162.5px,#3b0053 191.5px,#3b0053 207.5px,#2d0031 241.5px,#1b0012 281.5px,#120008 298.5px,#000000 304.5px)"></div>
<div class="c" style="left:337px;width:2px;background:linear-gradient(#ffffff 0.5px,#ffffff 2.5px,#000000 3.5px,#000000 43.5px,#000000 60.5px,#18000f 61.5px,#23001f 93.5px,#2e0034 118.5px,#350043 144.5px,#3a0052 162.5px,#3b0053 191.5px,#3b0053 207.5px,#2d0031 241.5px,#1b0012 281.5px,#15000b 296.5px,#000000 297.5px,#000000 302.5px,#ffffff 303.5px,#ffffff 304.5px)"></div>
<div class="c" style="left:339px;width:3px;background:linear-gradient(#ffffff 0.5px,#ffffff 2.5px,#000000 3.5px,#000000 43.5px,#000000 56.5px,#18000e 57.5px,#22001c 90.5px,#2e0035 119.5px,#350044 143.5px,#3c0056 161.5px,#3c0057 179.5px,#400062 203.5px,#360048 235.5px,#32003d 262.5px,#2a002b 276.5px,#17000d 296.5px,#000000 297.5px,#000000 302.5px,#ffffff 303.5px,#ffffff 304.5px)"></div>
<div class="c" style="left:342px;width:3px;background:linear-gradient(#ffffff 0.5px,#ffffff 2.5px,#000000 3.5px,#000000 43.5px,#000000 56.5px,#18000e 57.5px,#22001c 90.5px,#31003a 126.5px,#39004f 147.5px,#3e005e 162.5px,#3e005e 175.5px,#460073 191.5px,#470079 204.5px,#43006b 226.5px,#44006e 238.5px,#460073 251.5px,#44006e 266.5px,#3d005a 274.5px,#190010 296.5px,#000000 297.5px,#000000 298.5px,#ffffff 299.5px,#ffffff 304.5px)"></div>
<div class="c" style="left:345px;width:2px;background:linear-gradient(#ffffff 0.5px,#ffffff 2.5px,#000000 3.5px,#000000 43.5px,#000000 56.5px,#18000e 57.5px,#22001c 90.5px,#32003d 129.5px,#39004e 145.5px,#3f0060 159.5px,#3f0061 175.5px,#480079 192.5px,#49007d 205.5px,#450072 223.5px,#470076 238.5px,#49007c 250.5px,#460076 266.5px,#420067 272.5px,#1d0015 294.5px,#19000f 296.5px,#000000 297.5px,#000000 302.5px,#ffffff 303.5px,#ffffff 304.5px)"></div>
<div class="c" style="left:347px;width:3px;background:linear-gradient(#ffffff 0.5px,#ffffff 2.5px,#000000 3.5px,#000000 43.5px,#000000 56.5px,#18000e 57.5px,#22001c 90.5px,#33003e 130.5px,#3b0053 147.5px,#400063 161.5px,#400062 175.5px,#48007b 192.5px,#49007f 205.5px,#460074 221.5px,#470078 238.5px,#49007e 250.5px,#460076 266.5px,#3f005e 274.5px,#1a0010 295.5px,#18000e 296.5px,#000000 297.5px,#000000 304.5px)"></div>
<div class="c" style="left:350px;width:2px;background:linear-gradient(#ffffff 0.5px,#ffffff 2.5px,#000000 3.5px,#000000 43.5px,#000000 56.5px,#18000e 57.5px,#21001b 88.5px,#32003d 128.5px,#3b0053 146.5px,#410064 159.5px,#410064 175.5px,#49007c 192.5px,#4a0081 204.5px,#470076 220.5px,#48007b 238.5px,#4a0080 251.5px,#460074 267.5px,#3e005d 274.5px,#1d0014 293.5px,#17000d 296.5px,#000000 297.5px,#000000 304.5px)"></div>
<div class="c" style="left:352px;width:3px;background:linear-gradient(#ffffff 0.5px,#ffffff 2.5px,#000000 3.5px,#000000 43.5px,#000000 56.5px,#18000e 57.5px,#22001c 90.5px,#330040 130.5px,#3c0058 148.5px,#410067 161.5px,#420067 176.5px,#49007f 193.5px,#4a0082 205.5px,#470078 220.5px,#49007e 239.5px,#4a0081 252.5px,#460074 267.5px,#3b0053 276.5px,#1b0012 293.5px,#15000b 296.5px,#000000 297.5px,#000000 302.5px,#ffffff 303.5px,#ffffff 304.5px)"></div>
<div class="c" style="left:355px;width:2px;background:linear-gradient(#ffffff 0.5px,#ffffff 2.5px,#000000 3.5px,#000000 43.5px,#000000 56.5px,#18000e 57.5px,#22001c 89.5px,#330040 129.5px,#3c0056 146.5px,#420068 159.5px,#420069 176.5px,#49007f 192.5px,#4b0084 204.5px,#48007a 219.5px,#4a0081 240.5px,#4a0081 255.5px,#450072 268.5px,#20001a 290.5px,#1a0011 293.5px,#000000 294.5px,#000000 302.5px,#ffffff 303.5px,#ffffff 304.5px)"></div>
<div class="c" style="left:357px;width:3px;background:linear-gradient(#ffffff 0.5px,#ffffff 2.5px,#000000 3.5px,#000000 43.5px,#000000 56.5px,#18000e 57.5px,#23001d 91.5px,#340042 131.5px,#43006a 159.5px,#43006b 176.5px,#4b0083 194.5px,#4b0085 205.5px,#48007b 219.5px,#4b0083 243.5px,#49007d 258.5px,#44006f 268.5px,#1f0018 290.5px,#19000f 293.5px,#000000 294.5px,#000000 298.5px,#ffffff 299.5px,#ffffff 304.5px)"></div>
<div class="c" style="left:360px;width:3px;background:linear-gradient(#ffffff 0.5px,#ffffff 2.5px,#000000 3.5px,#000000 43.5px,#000000 50.5px,#18000e 51.5px,#1e0016 79.5px,#300039 119.5px,#3b0053 143.5px,#43006c 159.5px,#44006f 176.5px,#4d008b 200.5px,#480079 224.5px,#460076 250.5px,#3f0060 268.5px,#280027 284.5px,#18000e 293.5px,#000000 294.5px,#000000 298.5px,#ffffff 299.5px,#ffffff 304.5px)"></div>
<div class="c" style="left:363px;width:2px;background:linear-gradient(#ffffff 0.5px,#ffffff 2.5px,#000000 3.5px,#000000 43.5px,#000000 50.5px,#18000e 51.5px,#1f0018 82.5px,#32003c 122.5px,#3c0056 144.5px,#44006e 160.5px,#460074 178.5px,#4e008f 201.5px,#4a0080 214.5px,#450071 238.5px,#420069 251.5px,#3a0051 269.5px,#2b002e 279.5px,#17000d 293.5px,#000000 294.5px,#000000 302.5px,#ffffff 303.5px,#ffffff 304.5px)"></div>
<div class="c" style="left:365px;width:3px;background:linear-gradient(#000000 0.5px,#000000 40.5px,#000000 50.5px,#18000e 51.5px,#1f0018 81.5px,#32003c 121.5px,#3b0055 143.5px,#44006f 160.5px,#470077 178.5px,#4f0092 202.5px,#450071 229.5px,#400061 250.5px,#360046 269.5px,#290029 278.5px,#16000c 293.5px,#000000 294.5px,#000000 298.5px,#ffffff 299.5px,#ffffff 304.5px)"></div>
<div class="c" style="left:368px;width:2px;background:linear-gradient(#000000 0.5px,#000000 40.5px,#000000 50.5px,#18000e 51.5px,#1f0018 81.5px,#32003c 121.5px,#3b0055 143.5px,#44006f 160.5px,#470077 178.5px,#4f0092 202.5px,#450071 229.5px,#400061 250.5px,#360046 269.5px,#290029 278.5px,#14000a 294.5px,#000000 304.5px)"></div>
<div class="c" style="left:370px;width:3px;background:linear-gradient(#000000 0.5px,#000000 40.5px,#000000 41.5px,#18000e 42.5px,#1e0016 76.5px,#2b002e 104.5px,#3c0056 142.5px,#49007d 167.5px,#5500a4 190.5px,#5f01c3 204.5px,#6901e0 226.5px,#6f02ec 244.5px,#6a01e2 257.5px,#6001c6 265.5px,#44006f 282.5px,#2f0036 291.5px,#1d0015 297.5px,#0c0004 303.5px,#0b0003 304.5px)"></div>
<div class="c" style="left:373px;width:2px;background:linear-gradient(#000000 0.5px,#000000 40.5px,#000000 41.5px,#19000f 42.5px,#1f0017 76.5px,#2d0031 104.5px,#3f005e 144.5px,#4c0089 165.5px,#6501d6 193.5px,#7402f6 205.5px,#8004ff 215.5px,#8906f7 222.5px,#990cc5 238.5px,#9c0db8 246.5px,#9a0cbf 252.5px,#960ad3 258.5px,#8906f8 264.5px,#7c03fe 270.5px,#7002ef 276.5px,#6201cc 282.5px,#500095 288.5px,#360047 294.5px,#1e0017 300.5px,#110008 304.5px)"></div>
<div class="c" style="left:375px;width:3px;background:linear-gradient(#000000 0.5px,#000000 40.5px,#000000 41.5px,#19000f 42.5px,#1f0017 76.5px,#2d0031 104.5px,#3f005e 144.5px,#4c0089 165.5px,#6501d6 193.5px,#7402f6 205.5px,#8004ff 215.5px,#8906f7 222.5px,#990cc5 238.5px,#9c0db8 246.5px,#9a0cbf 252.5px,#960ad3 258.5px,#8906f8 264.5px,#7c03fe 270.5px,#7002ef 276.5px,#6201cc 282.5px,#500095 288.5px,#360047 294.5px,#1e0017 300.5px,#110008 304.5px)"></div>
<div class="c" style="left:378px;width:3px;background:linear-gradient(#000000 0.5px,#000000 40.5px,#000000 41.5px,#18000f 42.5px,#1e0016 75.5px,#2c002e 102.5px,#31003b 120.5px,#360047 141.5px,#48007b 166.5px,#5800af 190.5px,#6701d9 205.5px,#7602f9 227.5px,#7f04ff 249.5px,#7502f8 260.5px,#6301ce 272.5px,#5700ab 278.5px,#370049 289.5px,#240020 295.5px,#110007 302.5px,#0d0004 304.5px)"></div>
<div class="c" style="left:381px;width:2px;background:linear-gradient(#000000 0.5px,#000000 40.5px,#000000 44.5px,#18000f 45.5px,#1e0016 75.5px,#290028 97.5px,#300038 114.5px,#340041 140.5px,#400063 157.5px,#500093 181.5px,#5700a9 191.5px,#6201cc 203.5px,#6e02ec 227.5px,#7803fa 246.5px,#6f02ee 258.5px,#5f01c4 270.5px,#54009f 277.5px,#360046 287.5px,#22001c 294.5px,#0d0004 303.5px,#0c0003 304.5px)"></div>
<div class="c" style="left:383px;width:3px;background:linear-gradient(#000000 0.5px,#000000 40.5px,#000000 44.5px,#18000f 45.5px,#1e0016 75.5px,#290028 97.5px,#300038 114.5px,#340042 141.5px,#4f0090 179.5px,#5700a9 191.5px,#6201cc 203.5px,#6e02ec 227.5px,#7803fa 246.5px,#6f02ee 258.5px,#5f01c4 270.5px,#54009f 277.5px,#360046 287.5px,#22001c 294.5px,#0d0004 303.5px,#0c0003 304.5px)"></div>
<div class="c" style="left:386px;width:2px;background:linear-gradient(#000000 0.5px,#000000 40.5px,#000000 44.5px,#18000f 45.5px,#1e0016 75.5px,#290029 98.5px,#300038 114.5px,#340042 140.5px,#450070 163.5px,#500093 181.5px,#5700a9 191.5px,#6201cc 203.5px,#6e02ec 227.5px,#7803fa 246.5px,#6f02ee 258.5px,#5f01c4 270.5px,#54009f 277.5px,#360046 287.5px,#22001c 294.5px,#0d0004 303.5px,#0c0003 304.5px)"></div>
<div class="c" style="left:388px;width:3px;background:linear-gradient(#000000 0.5px,#000000 40.5px,#000000 44.5px,#18000f 45.5px,#1e0016 75.5px,#290029 98.5px,#300039 116.5px,#350043 141.5px,#500093 181.5px,#5700a9 191.5px,#6201cc 203.5px,#6e02ec 227.5px,#7803fa 246.5px,#6f02ee 258.5px,#5f01c4 270.5px,#54009f 277.5px,#360046 287.5px,#22001c 294.5px,#0d0004 303.5px,#0c0003 304.5px)"></div>
<div class="c" style="left:391px;width:3px;background:linear-gradient(#000000 0.5px,#000000 40.5px,#000000 44.5px,#18000f 45.5px,#1e0016 75.5px,#290029 98.5px,#300039 117.5px,#340042 140.5px,#4f0091 180.5px,#5700a9 191.5px,#6201cc 203.5px,#6e02ec 227.5px,#7803fa 246.5px,#6f02ee 258.5px,#5f01c4 270.5px,#54009f 277.5px,#360046 287.5px,#22001c 294.5px,#0d0004 303.5px,#0c0003 304.5px)"></div>
<div class="c" style="left:394px;width:2px;background:linear-gradient(#000000 0.5px,#000000 40.5px,#000000 44.5px,#18000f 45.5px,#1e0016 75.5px,#290029 98.5px,#300039 117.5px,#350044 141.5px,#500093 181.5px,#5700a9 191.5px,#6201cc 203.5px,#6e02ec 227.5px,#7803fa 246.5px,#6f02ee 258.5px,#5f01c4 270.5px,#54009f 277.5px,#360046 287.5px,#22001c 294.5px,#1d0015 296.5px,#000000 297.5px,#000000 302.5px,#ffffff 303.5px,#ffffff 304.5px)"></div>
<div class="c" style="left:396px;width:3px;background:linear-gradient(#000000 0.5px,#000000 40.5px,#000000 44.5px,#18000f 45.5px,#1e0016 75.5px,#2a002a 99.5px,#300039 117.5px,#350044 141.5px,#500093 181.5px,#5700a9 191.5px,#6201cc 203.5px,#6e02ec 227.5px,#7803fa 246.5px,#6f02ee 258.5px,#5f01c4 270.5px,#54009f 277.5px,#360046 287.5px,#22001c 294.5px,#1d0015 296.5px,#000000 297.5px,#000000 302.5px,#ffffff 303.5px,#ffffff 304.5px)"></div>
<div class="c" style="left:399px;width:2px;background:linear-gradient(#000000 0.5px,#000000 40.5px,#000000 44.5px,#18000f 45.5px,#1f0017 78.5px,#300038 118.5px,#350044 141.5px,#4d008c 181.5px,#5400a1 191.5px,#6001c6 205.5px,#6b01e4 224.5px,#7302f3 246.5px,#6d02e9 256.5px,#6101cb 266.5px,#500094 276.5px,#31003a 288.5px,#1e0017 295.5px,#1c0014 296.5px,#000000 297.5px,#000000 302.5px,#ffffff 303.5px,#ffffff 304.5px)"></div>
<div class="c" style="left:401px;width:3px;background:linear-gradient(#000000 0.5px,#000000 40.5px,#000000 44.5px,#18000e 45.5px,#1e0016 76.5px,#2e0034 116.5px,#340043 141.5px,#450072 169.5px,#500093 190.5px,#6201cc 213.5px,#6b01e4 230.5px,#6b01e4 250.5px,#6301d0 261.5px,#5a00b4 268.5px,#3a0050 283.5px,#1f0018 294.5px,#1b0012 296.5px,#000000 297.5px,#000000 302.5px,#ffffff 303.5px,#ffffff 304.5px)"></div>
<div class="c" style="left:404px;width:2px;background:linear-gradient(#000000 0.5px,#000000 40.5px,#000000 44.5px,#18000e 45.5px,#1e0016 77.5px,#2e0033 117.5px,#340043 141.5px,#43006b 166.5px,#4d008a 189.5px,#6201cd 217.5px,#6901e0 230.5px,#6601d8 252.5px,#5f01c4 262.5px,#5700ab 268.5px,#420067 277.5px,#1f0017 294.5px,#1a0011 296.5px,#000000 297.5px,#000000 302.5px,#ffffff 303.5px,#ffffff 304.5px)"></div>
<div class="c" style="left:406px;width:3px;background:linear-gradient(#000000 0.5px,#000000 40.5px,#000000 44.5px,#18000e 45.5px,#1e0016 77.5px,#2e0033 117.5px,#340043 141.5px,#43006b 166.5px,#4d008a 189.5px,#6201cd 217.5px,#6901e0 230.5px,#6601d8 252.5px,#5f01c4 262.5px,#5700ab 268.5px,#420067 277.5px,#1f0017 294.5px,#1a0011 296.5px,#000000 297.5px,#000000 302.5px,#ffffff 303.5px,#ffffff 304.5px)"></div>
<div class="c" style="left:409px;width:3px;background:linear-gradient(#000000 0.5px,#000000 40.5px,#000000 44.5px,#18000e 45.5px,#1f0017 78.5px,#2e0034 118.5px,#3c0056 142.5px,#4f0090 167.5px,#6301ce 194.5px,#7703f9 216.5px,#8104ff 234.5px,#8104ff 252.5px,#7502f7 262.5px,#6701db 270.5px,#5700aa 278.5px,#2a002b 294.5px,#110007 302.5px,#ffffff 303.5px,#ffffff 304.5px)"></div>
<div class="c" style="left:412px;width:2px;background:linear-gradient(#000000 0.5px,#000000 40.5px,#000000 44.5px,#18000e 45.5px,#1f0017 78.5px,#2e0033 117.5px,#3c0058 140.5px,#52009b 167.5px,#6601d7 191.5px,#7a03fd 213.5px,#8605fc 228.5px,#8c07f2 248.5px,#7d04ff 261.5px,#6f02ed 269.5px,#6201cc 276.5px,#53009c 282.5px,#300039 293.5px,#16000b 301.5px,#0e0005 304.5px)"></div>
<div class="c" style="left:414px;width:3px;background:linear-gradient(#000000 0.5px,#000000 40.5px,#000000 44.5px,#18000e 45.5px,#1e0016 77.5px,#2d0031 117.5px,#390050 140.5px,#5700ab 177.5px,#6401d3 193.5px,#7a03fd 215.5px,#8605fc 233.5px,#8706fa 250.5px,#7b03fe 260.5px,#6d02e9 268.5px,#5e01c0 276.5px,#49007e 284.5px,#2b002d 294.5px,#14000a 301.5px,#0d0004 304.5px)"></div>
<div class="c" style="left:417px;width:2px;background:linear-gradient(#000000 0.5px,#000000 40.5px,#000000 44.5px,#17000e 45.5px,#1d0015 76.5px,#270025 116.5px,#280028 142.5px,#350045 159.5px,#49007d 180.5px,#6101c9 205.5px,#6f02ec 216.5px,#7903fc 228.5px,#7502f8 246.5px,#6c01e6 258.5px,#6001c6 264.5px,#39004d 282.5px,#23001f 292.5px,#1b0012 296.5px,#000000 297.5px,#000000 302.5px,#ffffff 303.5px,#ffffff 304.5px)"></div>
<div class="c" style="left:419px;width:3px;background:linear-gradient(#000000 0.5px,#000000 40.5px,#000000 50.5px,#18000e 51.5px,#1f0017 79.5px,#270025 116.5px,#2a002b 143.5px,#3c0057 165.5px,#6301cf 205.5px,#6f02ee 215.5px,#7b03fe 231.5px,#7302f5 250.5px,#6b01e5 258.5px,#5d01be 265.5px,#3c0057 280.5px,#270025 290.5px,#1a0011 296.5px,#000000 297.5px,#000000 302.5px,#ffffff 303.5px,#ffffff 304.5px)"></div>
<div class="c" style="left:422px;width:2px;background:linear-gradient(#000000 0.5px,#000000 40.5px,#000000 50.5px,#18000e 51.5px,#1f0017 79.5px,#280027 119.5px,#2b002d 142.5px,#37004a 158.5px,#44006e 170.5px,#6c01e5 210.5px,#7502f8 220.5px,#7c03fe 234.5px,#7202f2 252.5px,#6901e0 259.5px,#5600a8 268.5px,#3b0054 280.5px,#280027 289.5px,#190010 296.5px,#000000 297.5px,#000000 302.5px,#ffffff 303.5px,#ffffff 304.5px)"></div>
<div class="c" style="left:424px;width:3px;background:linear-gradient(#000000 0.5px,#000000 40.5px,#000000 50.5px,#18000e 51.5px,#1f0018 81.5px,#280028 121.5px,#2c002f 142.5px,#3b0055 161.5px,#52009b 182.5px,#7202f2 214.5px,#7c03fe 228.5px,#7502f8 248.5px,#6b01e3 258.5px,#5e01c1 264.5px,#3a0051 280.5px,#270025 289.5px,#19000f 296.5px,#000000 297.5px,#000000 302.5px,#ffffff 303.5px,#ffffff 304.5px)"></div>
<div class="c" style="left:427px;width:3px;background:linear-gradient(#000000 0.5px,#000000 40.5px,#000000 50.5px,#18000e 51.5px,#1f0018 81.5px,#290029 121.5px,#2d0032 142.5px,#3a0052 158.5px,#450070 167.5px,#510098 178.5px,#7002ef 210.5px,#7b03fe 225.5px,#7a03fc 242.5px,#7102f0 253.5px,#6801de 259.5px,#53009c 269.5px,#3d0059 278.5px,#280027 288.5px,#18000e 296.5px,#000000 297.5px,#000000 302.5px,#ffffff 303.5px,#ffffff 304.5px)"></div>
<div class="c" style="left:430px;width:2px;background:linear-gradient(#000000 0.5px,#000000 40.5px,#000000 50.5px,#18000e 51.5px,#1f0018 81.5px,#29002a 121.5px,#2e0034 142.5px,#3c0056 158.5px,#450071 166.5px,#53009d 177.5px,#6501d5 198.5px,#7502f7 213.5px,#7e04ff 231.5px,#7502f7 249.5px,#6b01e5 257.5px,#6001c5 263.5px,#3c0056 278.5px,#270025 288.5px,#17000d 296.5px,#000000 297.5px,#000000 298.5px,#ffffff 299.5px,#ffffff 304.5px)"></div>
<div class="c" style="left:432px;width:3px;background:linear-gradient(#000000 0.5px,#000000 40.5px,#000000 50.5px,#18000e 51.5px,#1f0018 81.5px,#2a002b 121.5px,#300038 142.5px,#3e005b 158.5px,#460073 165.5px,#5600a7 178.5px,#6701da 197.5px,#7703f9 213.5px,#7e04ff 234.5px,#7502f7 249.5px,#6b01e3 257.5px,#5e01c2 263.5px,#3d0059 277.5px,#280027 287.5px,#16000c 296.5px,#000000 297.5px,#000000 302.5px,#ffffff 303.5px,#ffffff 304.5px)"></div>
<div class="c" style="left:435px;width:2px;background:linear-gradient(#000000 0.5px,#000000 40.5px,#000000 50.5px,#18000e 51.5px,#1f0018 81.5px,#2b002d 121.5px,#32003d 142.5px,#400062 158.5px,#49007e 166.5px,#5800ae 178.5px,#6b01e4 198.5px,#7903fc 214.5px,#7f04ff 235.5px,#7302f5 250.5px,#6801dc 258.5px,#5400a0 267.5px,#3b0054 277.5px,#290028 286.5px,#16000c 296.5px,#000000 297.5px,#000000 302.5px,#ffffff 303.5px,#ffffff 304.5px)"></div>
<div class="c" style="left:437px;width:3px;background:linear-gradient(#000000 0.5px,#000000 40.5px,#000000 50.5px,#18000e 51.5px,#1f0017 79.5px,#2b002d 119.5px,#340042 142.5px,#43006b 159.5px,#4d0089 167.5px,#5a01b5 178.5px,#6d02e8 197.5px,#7a03fd 213.5px,#7f04ff 236.5px,#7402f6 249.5px,#6801dd 257.5px,#5b01b8 263.5px,#3c0056 276.5px,#29002a 285.5px,#17000d 295.5px,#15000b 296.5px,#000000 297.5px,#000000 304.5px)"></div>
<div class="c" style="left:440px;width:2px;background:linear-gradient(#000000 0.5px,#000000 40.5px,#000000 50.5px,#18000e 51.5px,#1f0017 79.5px,#2b002e 119.5px,#360046 141.5px,#43006b 157.5px,#4d008b 166.5px,#5c01bb 178.5px,#6e02ea 195.5px,#7a03fd 210.5px,#8004ff 235.5px,#7502f7 248.5px,#6901df 256.5px,#5c01bb 262.5px,#3a0051 276.5px,#280027 285.5px,#190010 293.5px,#000000 294.5px,#000000 302.5px,#ffffff 303.5px,#ffffff 304.5px)"></div>
<div class="c" style="left:442px;width:3px;background:linear-gradient(#000000 0.5px,#000000 40.5px,#000000 50.5px,#18000e 51.5px,#1f0017 79.5px,#2c002f 119.5px,#38004d 142.5px,#48007a 160.5px,#5f01c5 179.5px,#7102f2 196.5px,#7d04ff 213.5px,#7f04ff 237.5px,#7202f2 250.5px,#6601d7 257.5px,#5600a6 264.5px,#38004c 276.5px,#250021 286.5px,#18000f 293.5px,#000000 294.5px,#000000 302.5px,#ffffff 303.5px,#ffffff 304.5px)"></div>
<div class="c" style="left:445px;width:3px;background:linear-gradient(#000000 0.5px,#000000 40.5px,#000000 47.5px,#18000e 48.5px,#1e0016 77.5px,#2c002f 117.5px,#39004f 140.5px,#470078 157.5px,#510099 166.5px,#6201cc 179.5px,#7502f7 196.5px,#8004ff 214.5px,#7f04ff 238.5px,#7202f3 249.5px,#6401d3 257.5px,#510097 265.5px,#38004c 275.5px,#250021 285.5px,#17000d 293.5px,#000000 294.5px,#000000 302.5px,#ffffff 303.5px,#ffffff 304.5px)"></div>
<div class="c" style="left:448px;width:2px;background:linear-gradient(#000000 0.5px,#000000 40.5px,#000000 47.5px,#18000e 48.5px,#1e0016 77.5px,#2c002f 117.5px,#3a0052 140.5px,#49007f 158.5px,#53009c 166.5px,#6201cc 178.5px,#7402f6 194.5px,#7e04ff 207.5px,#8004ff 237.5px,#7202f3 249.5px,#6601d6 256.5px,#5800ad 262.5px,#390050 274.5px,#29002a 282.5px,#16000c 293.5px,#000000 294.5px,#000000 302.5px,#ffffff 303.5px,#ffffff 304.5px)"></div>
<div class="c" style="left:450px;width:3px;background:linear-gradient(#000000 0.5px,#000000 40.5px,#000000 47.5px,#18000e 48.5px,#1e0016 77.5px,#2c002f 117.5px,#3a0052 140.5px,#49007f 158.5px,#53009c 166.5px,#6201cc 178.5px,#7402f6 194.5px,#7e04ff 207.5px,#8004ff 237.5px,#7202f3 249.5px,#6601d6 256.5px,#5800ad 262.5px,#390050 274.5px,#29002a 282.5px,#16000c 293.5px,#000000 294.5px,#000000 298.5px,#ffffff 299.5px,#ffffff 304.5px)"></div>
<div class="c" style="left:453px;width:2px;background:linear-gradient(#000000 0.5px,#000000 40.5px,#000000 47.5px,#18000e 48.5px,#1e0016 77.5px,#2c002f 117.5px,#3a0052 140.5px,#49007f 158.5px,#53009c 166.5px,#6201cc 178.5px,#7402f6 194.5px,#7e04ff 207.5px,#8004ff 237.5px,#7202f3 249.5px,#6601d6 256.5px,#5800ad 262.5px,#390050 274.5px,#29002a 282.5px,#16000c 293.5px,#120008 296.5px,#000000 297.5px,#000000 298.5px,#ffffff 299.5px,#ffffff 304.5px)"></div>
<div class="c" style="left:455px;width:3px;background:linear-gradient(#000000 0.5px,#000000 40.5px,#000000 50.5px,#18000e 51.5px,#1f0017 79.5px,#2d0031 119.5px,#3c0058 143.5px,#4c0088 161.5px,#6201cc 178.5px,#7402f6 194.5px,#7e04ff 207.5px,#8004ff 237.5px,#7202f3 249.5px,#6601d6 256.5px,#5800ad 262.5px,#390050 274.5px,#29002a 282.5px,#16000c 293.5px,#120008 296.5px,#000000 297.5px,#000000 304.5px)"></div>
<div class="c" style="left:458px;width:2px;background:linear-gradient(#000000 0.5px,#000000 40.5px,#000000 50.5px,#18000e 51.5px,#1f0017 79.5px,#2d0031 119.5px,#3c0058 143.5px,#4c0088 161.5px,#6201cc 178.5px,#7402f6 194.5px,#7e04ff 207.5px,#8004ff 237.5px,#7202f3 249.5px,#6601d6 256.5px,#5800ad 262.5px,#390050 274.5px,#29002a 282.5px,#16000c 293.5px,#120008 296.5px,#000000 297.5px,#000000 304.5px)"></div>
<div class="c" style="left:460px;width:3px;background:linear-gradient(#000000 0.5px,#000000 40.5px,#000000 50.5px,#18000e 51.5px,#1f0017 79.5px,#2d0031 119.5px,#3c0058 143.5px,#4c0088 161.5px,#6201cc 178.5px,#7402f6 194.5px,#7e04ff 207.5px,#8004ff 237.5px,#7202f3 249.5px,#6601d6 256.5px,#5800ad 262.5px,#390050 274.5px,#29002a 282.5px,#16000c 293.5px,#120008 296.5px,#000000 297.5px,#000000 302.5px,#ffffff 303.5px,#ffffff 304.5px)"></div>
<div class="c" style="left:463px;width:3px;background:linear-gradient(#000000 0.5px,#000000 40.5px,#000000 50.5px,#18000e 51.5px,#1f0017 79.5px,#2d0031 119.5px,#3c0058 143.5px,#4c0088 161.5px,#6201cc 178.5px,#7402f6 194.5px,#7e04ff 207.5px,#8004ff 237.5px,#7202f3 249.5px,#6601d6 256.5px,#5800ad 262.5px,#390050 274.5px,#29002a 282.5px,#16000c 293.5px,#120008 296.5px,#000000 297.5px,#000000 302.5px,#ffffff 303.5px,#ffffff 304.5px)"></div>
<div class="c" style="left:466px;width:2px;background:linear-gradient(#000000 0.5px,#000000 40.5px,#000000 50.5px,#18000e 51.5px,#1f0017 79.5px,#2d0031 119.5px,#3c0058 143.5px,#4c0088 161.5px,#6201cc 178.5px,#7402f6 194.5px,#7e04ff 207.5px,#8004ff 237.5px,#7202f3 249.5px,#6601d6 256.5px,#5800ad 262.5px,#390050 274.5px,#29002a 282.5px,#16000c 293.5px,#120008 296.5px,#000000 297.5px,#000000 298.5px,#ffffff 299.5px,#ffffff 304.5px)"></div>
<div class="c" style="left:468px;width:3px;background:linear-gradient(#000000 0.5px,#000000 40.5px,#000000 50.5px,#18000e 51.5px,#1f0017 79.5px,#2d0031 119.5px,#3c0058 143.5px,#4c0088 161.5px,#6201cc 178.5px,#7402f6 194.5px,#7e04ff 207.5px,#8004ff 237.5px,#7202f3 249.5px,#6601d6 256.5px,#5800ad 262.5px,#390050 274.5px,#29002a 282.5px,#16000c 293.5px,#120008 296.5px,#000000 297.5px,#000000 302.5px,#ffffff 303.5px,#ffffff 304.5px)"></div>
<div class="c" style="left:471px;width:2px;background:linear-gradient(#000000 0.5px,#000000 40.5px,#000000 47.5px,#18000e 48.5px,#1e0016 78.5px,#2c0030 118.5px,#3b0054 142.5px,#4b0083 160.5px,#6201cd 179.5px,#7302f5 194.5px,#7e04ff 208.5px,#8004ff 236.5px,#7602f8 246.5px,#6b01e4 253.5px,#5f01c3 259.5px,#3c0056 273.5px,#2b002e 281.5px,#16000c 293.5px,#120008 296.5px,#000000 297.5px,#000000 304.5px)"></div>
<div class="c" style="left:473px;width:3px;background:linear-gradient(#000000 0.5px,#000000 40.5px,#000000 47.5px,#18000e 48.5px,#1e0016 78.5px,#2c002f 118.5px,#39004e 140.5px,#48007b 158.5px,#5400a1 168.5px,#6601d7 183.5px,#7502f7 196.5px,#7f04ff 212.5px,#7e04ff 238.5px,#7302f3 248.5px,#6901de 254.5px,#5c01ba 260.5px,#3c0056 273.5px,#2b002e 281.5px,#16000c 293.5px,#120008 296.5px,#000000 297.5px,#000000 302.5px,#ffffff 303.5px,#ffffff 304.5px)"></div>
<div class="c" style="left:476px;width:2px;background:linear-gradient(#000000 0.5px,#000000 40.5px,#000000 47.5px,#18000e 48.5px,#1e0016 78.5px,#2b002e 118.5px,#38004d 141.5px,#48007c 159.5px,#6401d2 182.5px,#7402f6 196.5px,#7e04ff 211.5px,#7e04ff 238.5px,#7202f3 248.5px,#6601d7 255.5px,#5900b0 261.5px,#39004f 274.5px,#270026 283.5px,#130009 295.5px,#120008 296.5px,#000000 297.5px,#000000 298.5px,#ffffff 299.5px,#ffffff 304.5px)"></div>
<div class="c" style="left:478px;width:3px;background:linear-gradient(#000000 0.5px,#000000 40.5px,#000000 47.5px,#18000e 48.5px,#1e0016 78.5px,#2b002d 118.5px,#38004b 141.5px,#48007a 159.5px,#6501d6 184.5px,#7502f8 198.5px,#8004ff 219.5px,#7c03fe 239.5px,#7002ef 249.5px,#6101cb 257.5px,#39004f 274.5px,#270026 283.5px,#130009 295.5px,#120008 296.5px,#000000 297.5px,#000000 298.5px,#ffffff 299.5px,#ffffff 304.5px)"></div>
</div>
<div class="k" style="left:112px;top:81px;width:371px;height:1px"></div>
<div class="k" style="left:112px;top:399px;width:371px;height:1px"></div>
<div class="k" style="left:112px;top:81px;width:1px;height:319px"></div>
<div class="k" style="left:482px;top:81px;width:1px;height:319px"></div>
<div class="k" style="left:111px;top:81px;width:1px;height:6px"></div>
<div class="k" style="left:111px;top:395px;width:1px;height:6px"></div>
<div class="k" style="left:127px;top:81px;width:1px;height:4px"></div>
<div class="k" style="left:127px;top:398px;width:1px;height:3px"></div>
<div class="k" style="left:142px;top:81px;width:1px;height:4px"></div>
<div class="k" style="left:142px;top:398px;width:1px;height:3px"></div>
<div class="k" style="left:157px;top:81px;width:1px;height:4px"></div>
<div class="k" style="left:157px;top:398px;width:1px;height:3px"></div>
<div class="k" style="left:173px;top:81px;width:1px;height:6px"></div>
<div class="k" style="left:173px;top:395px;width:1px;height:6px"></div>
<div class="k" style="left:188px;top:81px;width:1px;height:4px"></div>
<div class="k" style="left:188px;top:398px;width:1px;height:3px"></div>
<div class="k" style="left:204px;top:81px;width:1px;height:4px"></div>
<div class="k" style="left:204px;top:398px;width:1px;height:3px"></div>
<div class="k" style="left:219px;top:81px;width:1px;height:4px"></div>
<div class="k" style="left:219px;top:398px;width:1px;height:3px"></div>
<div class="k" style="left:235px;top:81px;width:1px;height:6px"></div>
<div class="k" style="left:235px;top:395px;width:1px;height:6px"></div>
<div class="k" style="left:250px;top:81px;width:1px;height:4px"></div>
<div class="k" style="left:250px;top:398px;width:1px;height:3px"></div>
<div class="k" style="left:266px;top:81px;width:1px;height:4px"></div>
<div class="k" style="left:266px;top:398px;width:1px;height:3px"></div>
<div class="k" style="left:281px;top:81px;width:1px;height:4px"></div>
<div class="k" style="left:281px;top:398px;width:1px;height:3px"></div>
<div class="k" style="left:296px;top:81px;width:1px;height:6px"></div>
<div class="k" style="left:296px;top:395px;width:1px;height:6px"></div>
<div class="k" style="left:312px;top:81px;width:1px;height:4px"></div>
<div class="k" style="left:312px;top:398px;width:1px;height:3px"></div>
<div class="k" style="left:327px;top:81px;width:1px;height:4px"></div>
<div class="k" style="left:327px;top:398px;width:1px;height:3px"></div>
<div class="k" style="left:343px;top:81px;width:1px;height:4px"></div>
<div class="k" style="left:343px;top:398px;width:1px;height:3px"></div>
<div class="k" style="left:358px;top:81px;width:1px;height:6px"></div>
<div class="k" style="left:358px;top:395px;width:1px;height:6px"></div>
<div class="k" style="left:374px;top:81px;width:1px;height:4px"></div>
<div class="k" style="left:374px;top:398px;width:1px;height:3px"></div>
<div class="k" style="left:389px;top:81px;width:1px;height:4px"></div>
<div class="k" style="left:389px;top:398px;width:1px;height:3px"></div>
<div class="k" style="left:404px;top:81px;width:1px;height:4px"></div>
<div class="k" style="left:404px;top:398px;width:1px;height:3px"></div>
<div class="k" style="left:420px;top:81px;width:1px;height:6px"></div>
<div class="k" style="left:420px;top:395px;width:1px;height:6px"></div>
<div class="k" style="left:435px;top:81px;width:1px;height:4px"></div>
<div class="k" style="left:435px;top:398px;width:1px;height:3px"></div>
<div class="k" style="left:451px;top:81px;width:1px;height:4px"></div>
<div class="k" style="left:451px;top:398px;width:1px;height:3px"></div>
<div class="k" style="left:466px;top:81px;width:1px;height:4px"></div>
<div class="k" style="left:466px;top:398px;width:1px;height:3px"></div>
<div class="k" style="left:482px;top:81px;width:1px;height:6px"></div>
<div class="k" style="left:482px;top:395px;width:1px;height:6px"></div>
<div class="k" style="left:111px;top:401px;width:4px;height:1px"></div>
<div class="k" style="left:479px;top:401px;width:4px;height:1px"></div>
<div class="k" style="left:111px;top:393px;width:4px;height:1px"></div>
<div class="k" style="left:479px;top:393px;width:4px;height:1px"></div>
<div class="k" style="left:111px;top:386px;width:7px;height:1px"></div>
<div class="k" style="left:476px;top:386px;width:7px;height:1px"></div>
<div class="k" style="left:111px;top:339px;width:4px;height:1px"></div>
<div class="k" style="left:479px;top:339px;width:4px;height:1px"></div>
<div class="k" style="left:111px;top:312px;width:4px;height:1px"></div>
<div class="k" style="left:479px;top:312px;width:4px;height:1px"></div>
<div class="k" style="left:111px;top:293px;width:4px;height:1px"></div>
<div class="k" style="left:479px;top:293px;width:4px;height:1px"></div>
<div class="k" style="left:111px;top:278px;width:4px;height:1px"></div>
<div class="k" style="left:479px;top:278px;width:4px;height:1px"></div>
<div class="k" style="left:111px;top:265px;width:4px;height:1px"></div>
<div class="k" style="left:479px;top:265px;width:4px;height:1px"></div>
<div class="k" style="left:111px;top:255px;width:4px;height:1px"></div>
<div class="k" style="left:479px;top:255px;width:4px;height:1px"></div>
<div class="k" style="left:111px;top:246px;width:4px;height:1px"></div>
<div class="k" style="left:479px;top:246px;width:4px;height:1px"></div>
<div class="k" style="left:111px;top:238px;width:4px;height:1px"></div>
<div class="k" style="left:479px;top:238px;width:4px;height:1px"></div>
<div class="k" style="left:111px;top:231px;width:7px;height:1px"></div>
<div class="k" style="left:476px;top:231px;width:7px;height:1px"></div>
<div class="k" style="left:111px;top:184px;width:4px;height:1px"></div>
<div class="k" style="left:479px;top:184px;width:4px;height:1px"></div>
<div class="k" style="left:111px;top:157px;width:4px;height:1px"></div>
<div class="k" style="left:479px;top:157px;width:4px;height:1px"></div>
<div class="k" style="left:111px;top:138px;width:4px;height:1px"></div>
<div class="k" style="left:479px;top:138px;width:4px;height:1px"></div>
<div class="k" style="left:111px;top:123px;width:4px;height:1px"></div>
<div class="k" style="left:479px;top:123px;width:4px;height:1px"></div>
<div class="k" style="left:111px;top:110px;width:4px;height:1px"></div>
<div class="k" style="left:479px;top:110px;width:4px;height:1px"></div>
<div class="k" style="left:111px;top:100px;width:4px;height:1px"></div>
<div class="k" style="left:479px;top:100px;width:4px;height:1px"></div>
<div class="k" style="left:111px;top:91px;width:4px;height:1px"></div>
<div class="k" style="left:479px;top:91px;width:4px;height:1px"></div>
<div class="k" style="left:111px;top:83px;width:4px;height:1px"></div>
<div class="k" style="left:479px;top:83px;width:4px;height:1px"></div>
<div class="a" style="left:501px;top:81px;width:19px;height:319px;background:linear-gradient(#ffff00 0.00%,#fdf300 1.56%,#fbe800 3.12%,#f9dd00 4.69%,#f7d200 6.25%,#f5c800 7.81%,#f3be00 9.38%,#f1b400 10.94%,#efab00 12.50%,#eca200 14.06%,#ea9900 15.62%,#e89100 17.19%,#e68900 18.75%,#e48100 20.31%,#e17a00 21.88%,#df7200 23.44%,#dd6c00 25.00%,#db6500 26.56%,#d85f00 28.12%,#d65900 29.69%,#d35300 31.25%,#d14d00 32.81%,#cf4800 34.38%,#cc4300 35.94%,#ca3e00 37.50%,#c73a00 39.06%,#c43500 40.62%,#c23100 42.19%,#bf2d00 43.75%,#bd2a00 45.31%,#ba2600 46.88%,#b72300 48.44%,#b42000 50.00%,#b11d19 51.56%,#af1a32 53.12%,#ac184a 54.69%,#a91562 56.25%,#a61378 57.81%,#a3118e 59.38%,#9f0fa2 60.94%,#9c0db4 62.50%,#990cc5 64.06%,#960ad4 65.62%,#9209e1 67.19%,#8f08ec 68.75%,#8b07f4 70.31%,#8706fa 71.88%,#8305fe 73.44%,#8004ff 75.00%,#7b03fe 76.56%,#7703fa 78.12%,#7302f4 79.69%,#6e02ec 81.25%,#6a01e1 82.81%,#6501d4 84.38%,#6001c5 85.94%,#5a00b4 87.50%,#5400a2 89.06%,#4e008e 90.62%,#470078 92.19%,#400062 93.75%,#37004a 95.31%,#2d0032 96.88%,#200019 98.44%,#000000 100.00%)"></div>
<div class="k" style="left:501px;top:81px;width:19px;height:1px"></div>
<div class="k" style="left:501px;top:399px;width:19px;height:1px"></div>
<div class="k" style="left:501px;top:81px;width:1px;height:319px"></div>
<div class="k" style="left:519px;top:81px;width:1px;height:319px"></div>
<div class="k" style="left:501px;top:336px;width:5px;height:1px"></div>
<div class="k" style="left:515px;top:336px;width:5px;height:1px"></div>
<div class="k" style="left:501px;top:272px;width:5px;height:1px"></div>
<div class="k" style="left:515px;top:272px;width:5px;height:1px"></div>
<div class="k" style="left:501px;top:208px;width:5px;height:1px"></div>
<div class="k" style="left:515px;top:208px;width:5px;height:1px"></div>
<div class="k" style="left:501px;top:145px;width:5px;height:1px"></div>
<div class="k" style="left:515px;top:145px;width:5px;height:1px"></div>
<div class="t" style="left:297px;transform:translateX(-50%);top:46.5px;font-size:17px;letter-spacing:.1px;">dN / d log d (5/9/1)</div>
<div class="t" style="left:113px;transform:translateX(-50%);top:414px;letter-spacing:.4px;">0</div>
<div class="t" style="left:175px;transform:translateX(-50%);top:414px;letter-spacing:.4px;">4</div>
<div class="t" style="left:237px;transform:translateX(-50%);top:414px;letter-spacing:.4px;">8</div>
<div class="t" style="left:298.7px;transform:translateX(-50%);top:414px;letter-spacing:.4px;">12</div>
<div class="t" style="left:360.2px;transform:translateX(-50%);top:414px;letter-spacing:.4px;">16</div>
<div class="t" style="left:422.2px;transform:translateX(-50%);top:414px;letter-spacing:.4px;">20</div>
<div class="t" style="left:484px;transform:translateX(-50%);top:414px;letter-spacing:.4px;">24</div>
<div class="t" style="left:297px;transform:translateX(-50%);top:440px;font-size:17px;letter-spacing:.3px;">Time [hour]</div>
<div class="t" style="right:542.5px;top:224px;letter-spacing:.4px;">100</div>
<div class="t" style="right:542.5px;top:378px;letter-spacing:.4px;">10</div>
<div class="t" style="left:533.5px;top:391px;letter-spacing:.5px;">0</div>
<div class="t" style="left:533.5px;top:328px;letter-spacing:.5px;">5000</div>
<div class="t" style="left:533.5px;top:265px;letter-spacing:.5px;">10000</div>
<div class="t" style="left:533.5px;top:201px;letter-spacing:.5px;">15000</div>
<div class="t" style="left:533.5px;top:137.5px;letter-spacing:.5px;">20000</div>
<div class="t" style="left:533.5px;top:74px;letter-spacing:.5px;">25000</div>
<div class="t" id="ylabel" style="left:52px;top:238.5px;font-size:17px;transform:translate(-50%,-50%) rotate(-90deg)">Particle size [nm]</div>
</body></html>
